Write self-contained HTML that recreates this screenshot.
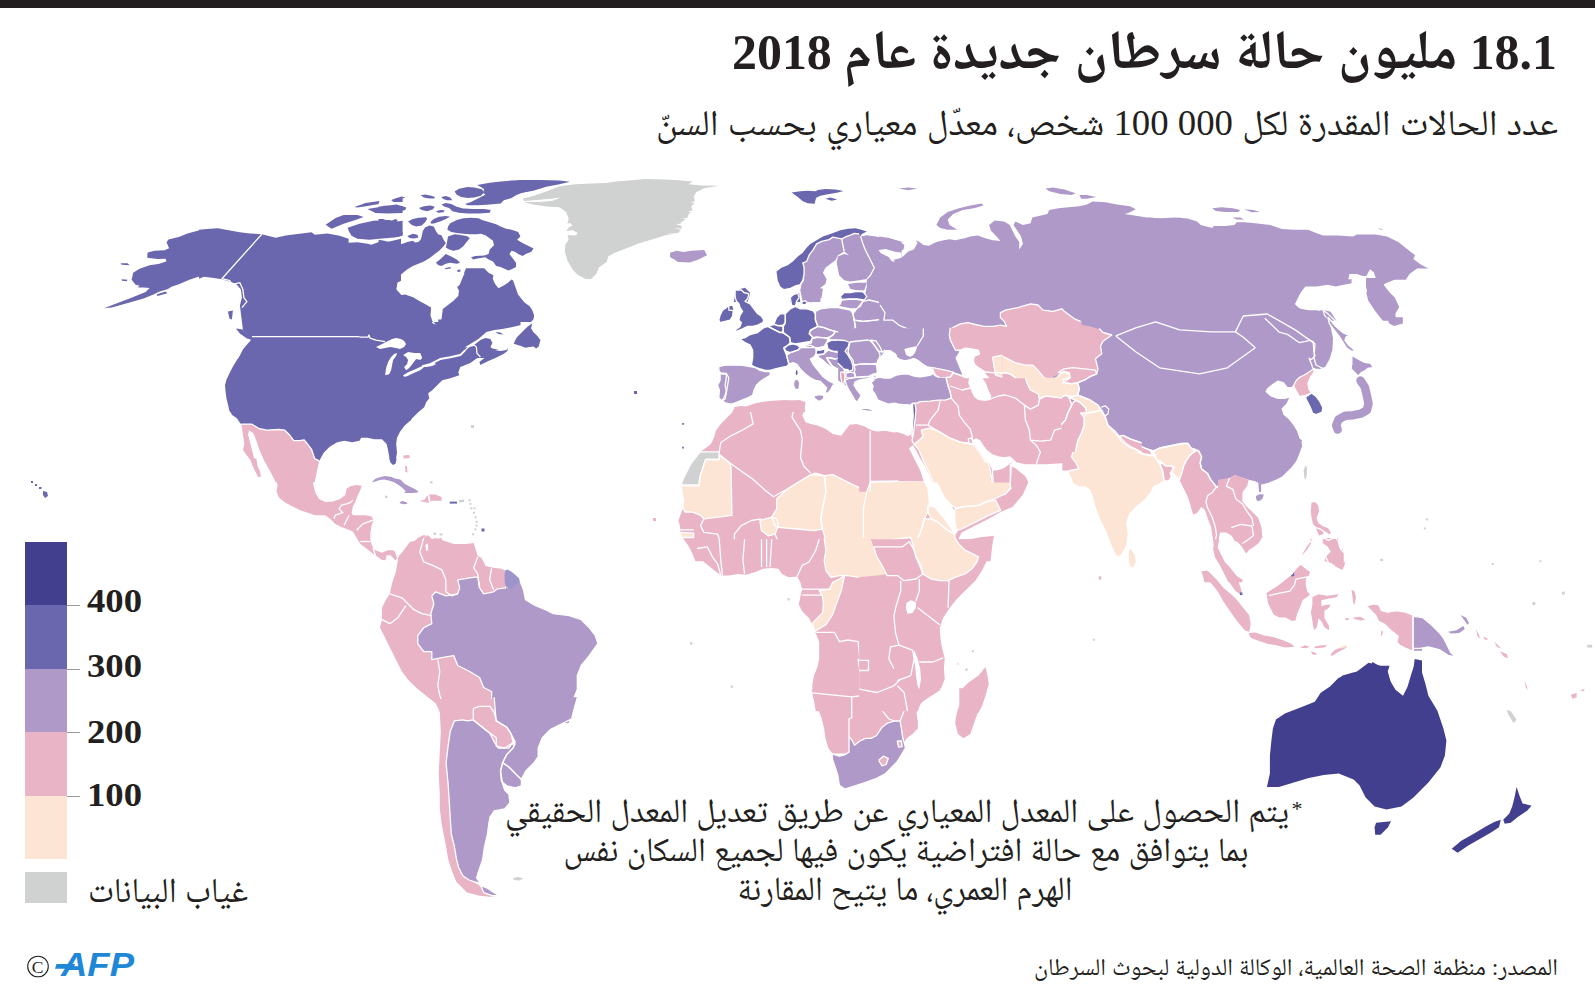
<!DOCTYPE html>
<html lang="ar">
<head>
<meta charset="utf-8">
<style>
html,body{margin:0;padding:0;background:#fff;}
body{width:1595px;height:1003px;position:relative;overflow:hidden;}
.ar{font-family:"Liberation Serif","Noto Naskh Arabic","DejaVu Sans",serif;color:#231f20;position:absolute;white-space:nowrap;direction:rtl;}
#bar{position:absolute;left:0;top:0;width:1595px;height:8px;background:#231f20;}
#title{right:38px;top:14px;font-size:50px;font-weight:bold;line-height:70px;}
#sub{right:37px;top:100px;font-size:30px;line-height:44px;}
#note{left:0;width:1812px;text-align:center;top:790px;font-size:28px;line-height:38.5px;direction:rtl;}
#src{right:37px;top:950px;font-size:21px;line-height:30px;}
#nodata{left:88px;top:872px;font-size:30px;line-height:36px;}
.lg{position:absolute;left:25px;width:42px;}
.tk{position:absolute;left:67px;width:13px;height:1px;background:#999;}
.num{position:absolute;left:88px;font-family:"Liberation Serif",serif;font-weight:bold;font-size:31px;line-height:36px;color:#231f20;}
#map{position:absolute;left:0;top:0;}
</style>
</head>
<body>
<div id="bar"></div>
<svg id="map" width="1595" height="1003" viewBox="0 0 1595 1003">
<polygon points="201.4,229.8 187.4,233.4 179.5,236.8 168.5,239.4 166.5,242.2 169.1,248.2 164.5,250.2 154.5,250.8 147.6,252.4 147.2,257.7 157.5,258.9 165.5,258.7 166.5,261.3 159.5,263.7 149.6,265.3 139.6,268.7 133.2,272.7 131.6,279.7 135.6,284.7 139.6,285.7 137.6,287.6 143.6,287.6 149.6,288.0 145.6,292.0 129.6,298.6 113.7,304.6 104.1,308.2 111.7,307.6 129.6,302.6 143.6,298.6 153.5,294.6 159.5,291.6 167.5,289.2 171.5,286.7 179.5,284.1 189.4,279.7 201.4,275.7" fill="#6a67ae"/>
<polygon points="120.6,263.3 127.6,263.3 129.6,265.3 121.6,264.7" fill="#6a67ae"/>
<polygon points="121.6,279.3 127.6,279.7 126.6,281.3 122.0,280.7" fill="#6a67ae"/>
<polygon points="156.5,294.6 165.5,291.6 167.5,293.2 157.5,296.0" fill="#6a67ae"/>
<polygon points="199.0,229.8 210.0,228.8 217.9,228.2 225.9,229.8 239.9,232.2 249.9,233.4 261.8,234.2 275.8,237.8 285.7,235.4 295.7,234.2 307.7,232.8 311.7,232.2 314.7,234.8 319.6,234.2 327.6,233.4 339.6,235.8 348.6,238.8 348.6,242.8 357.5,242.2 367.5,243.8 371.5,244.8 379.5,241.8 389.4,241.4 401.0,238.8 401.0,280.7 397.4,282.7 396.4,289.6 401.0,294.6 401.0,336.5 391.4,338.5 383.4,341.5 377.5,345.5 375.5,348.5 383.4,347.5 391.4,345.5 401.0,343.5 401.0,371.0 231.9,371.0 237.9,359.4 242.9,349.5 247.9,343.5 250.8,340.5 248.9,336.5 242.9,329.5 240.9,313.6 239.9,305.6 241.9,297.6 240.9,289.6 235.9,283.7 229.9,281.7 221.9,279.3 212.0,277.7 204.0,276.7 199.0,278.7" fill="#6a67ae"/>
<polygon points="325.6,224.8 335.6,217.9 343.6,214.9 357.5,214.9 363.5,216.9 355.5,219.9 343.6,223.8 331.6,228.8" fill="#6a67ae"/>
<polygon points="354.5,206.9 365.5,202.9 379.5,200.9 378.5,203.9 367.5,205.9 357.5,207.5" fill="#6a67ae"/>
<polygon points="347.6,227.8 359.5,223.8 373.5,220.8 389.4,219.9 395.4,221.8 402.6,220.8 402.6,235.8 391.4,237.8 379.5,238.8 369.5,239.8 357.5,238.8 351.5,235.8 348.6,230.8" fill="#6a67ae"/>
<polygon points="367.5,208.9 379.5,206.9 391.4,207.9 402.6,205.9 402.6,212.9 387.4,213.5 375.5,212.9" fill="#6a67ae"/>
<polygon points="391.4,199.9 402.6,197.9 402.6,201.9 393.4,201.9" fill="#6a67ae"/>
<polygon points="235.9,328.5 242.9,329.5 248.9,335.5 250.8,339.5 246.9,338.5 239.9,333.5" fill="#6a67ae"/>
<polygon points="227.9,311.6 232.9,310.6 231.9,319.6 229.5,318.6" fill="#6a67ae"/>
<polyline points="261.8,234.2 221.9,278.7 229.9,280.7 231.9,284.7 239.9,282.7 242.9,289.6 243.9,297.6 246.9,301.6 241.9,307.6" fill="none" stroke="#fff" stroke-width="1.3" stroke-linejoin="round"/>
<polyline points="252.8,336.5 368.5,336.5 369.5,339.5 383.4,341.5 391.4,343.5" fill="none" stroke="#fff" stroke-width="1.3" stroke-linejoin="round"/>
<polygon points="1039.3,429.3 1087.9,429.3 1084.9,439.0 1078.9,448.0 1072.9,452.4 1071.4,456.9 1075.9,462.9 1078.9,468.9 1068.4,470.4 1062.4,470.4 1055.0,464.4 1047.5,464.4 1039.3,465.9" fill="#e9b4c6"/>
<polygon points="1087.9,428.1 1105.8,428.1 1110.3,433.0 1117.8,437.5 1119.3,443.5 1129.8,449.4 1144.7,453.9 1153.7,455.4 1156.7,459.9 1159.7,464.4 1162.7,470.4 1164.2,480.9 1159.7,483.9 1153.7,486.8 1150.7,492.8 1144.7,500.3 1137.2,506.3 1129.8,513.8 1126.8,522.7 1128.3,534.7 1126.8,545.2 1122.3,554.2 1117.8,557.2 1114.8,554.2 1110.3,543.7 1105.8,531.7 1099.8,519.8 1095.3,507.8 1092.4,497.3 1089.4,489.8 1084.9,486.8 1078.9,486.8 1072.9,483.9 1071.4,479.4 1068.4,473.4 1069.9,470.4 1078.9,468.9 1075.9,462.9 1071.4,456.9 1072.9,452.4 1078.9,448.0 1084.9,439.0" fill="#fde5d6"/>
<polygon points="1153.7,450.9 1159.7,448.0 1167.2,446.5 1174.6,445.0 1182.1,443.5 1188.1,443.5 1191.1,448.0 1195.6,450.9 1189.6,455.4 1186.6,459.9 1183.6,465.9 1182.1,471.9 1179.1,479.4 1174.6,474.9 1171.6,471.9 1174.6,467.4 1170.1,465.9 1165.7,465.9 1161.2,461.4 1156.7,459.9" fill="#fde5d6"/>
<polygon points="1117.8,437.5 1123.8,438.2 1132.7,442.0 1141.7,446.5 1150.7,450.9 1152.2,456.2 1144.7,454.7 1132.7,450.9 1123.8,448.0 1117.8,443.5" fill="#e9b4c6"/>
<polygon points="1159.7,461.4 1165.7,465.9 1171.6,465.9 1173.1,468.9 1170.1,473.4 1171.6,476.4 1168.6,480.9 1164.2,480.9 1162.7,473.4 1161.2,467.4" fill="#e9b4c6"/>
<polygon points="1105.8,428.1 1242.4,428.1 1242.4,474.9 1236.0,474.9 1228.5,479.4 1221.0,482.4 1219.5,485.3 1216.5,486.8 1210.5,479.4 1207.5,473.4 1201.6,468.9 1200.1,462.9 1201.6,456.9 1198.6,450.9 1195.6,449.4 1191.1,448.0 1188.1,443.5 1182.1,443.5 1174.6,445.0 1167.2,446.5 1159.7,448.0 1153.7,450.9 1144.7,448.0 1132.7,443.5 1123.8,438.2 1117.8,437.5 1110.3,433.0" fill="#ae99c9"/>
<polygon points="1191.1,453.9 1195.6,450.9 1198.6,450.9 1201.6,456.9 1200.1,462.9 1201.6,468.9 1207.5,473.4 1210.5,479.4 1216.5,486.8 1212.0,492.8 1207.5,495.8 1206.0,501.8 1207.5,507.8 1212.0,516.8 1215.0,525.7 1216.5,534.7 1215.0,542.2 1213.5,548.2 1212.0,537.7 1210.5,527.2 1207.5,519.8 1204.5,510.8 1201.6,507.8 1197.1,513.8 1192.6,515.3 1189.6,504.8 1186.6,495.8 1182.1,486.8 1179.1,480.9 1182.1,471.9 1183.6,465.9 1186.6,459.9" fill="#e9b4c6"/>
<polygon points="1216.5,486.8 1219.5,485.3 1221.0,482.4 1228.5,479.4 1236.0,474.9 1242.4,474.9 1242.4,543.7 1234.5,540.7 1231.5,534.7 1227.0,531.7 1221.0,528.7 1219.5,534.7 1218.0,543.7 1216.5,549.7 1219.5,557.2 1224.0,563.1 1228.5,567.6 1233.0,572.1 1237.5,576.6 1242.4,579.6 1242.4,582.3 1228.5,582.3 1224.0,573.6 1219.5,564.6 1215.0,557.2 1213.5,548.2 1215.0,542.2 1216.5,534.7 1215.0,525.7 1212.0,516.8 1207.5,507.8 1206.0,501.8 1207.5,495.8 1212.0,492.8" fill="#e9b4c6"/>
<polygon points="1128.3,549.7 1131.2,548.2 1135.0,554.2 1136.5,561.6 1134.2,567.6 1129.8,566.9 1128.3,560.1" fill="#fde5d6"/>
<polygon points="1201.6,571.4 1207.5,570.6 1213.5,576.6 1216.5,582.3 1204.5,582.3" fill="#e9b4c6"/>
<polygon points="1098.8,576.3 1101.3,576.3 1101.3,579.6 1098.8,579.6" fill="#e9b4c6"/>
<path d="M1105.8,428.1 L1110.3,433.0 L1117.8,437.5 L1119.3,443.5 L1129.8,449.4 L1144.7,453.9 L1153.7,455.4 L1156.7,459.9 L1159.7,464.4 L1162.7,470.4 L1164.2,480.9 L1159.7,483.9 L1153.7,486.8 L1150.7,492.8 L1144.7,500.3 L1137.2,506.3 L1129.8,513.8 L1126.8,522.7 L1128.3,534.7 L1126.8,545.2 L1122.3,554.2 L1117.8,557.2 L1114.8,554.2 L1110.3,543.7 L1105.8,531.7 L1099.8,519.8 L1095.3,507.8 L1092.4,497.3 L1089.4,489.8 L1084.9,486.8 L1078.9,486.8 L1072.9,483.9 L1071.4,479.4 L1068.4,473.4 L1069.9,470.4 L1078.9,468.9 L1075.9,462.9 L1071.4,456.9 L1072.9,452.4 L1078.9,448.0 L1084.9,439.0 L1087.9,428.1" fill="none" stroke="#fff" stroke-width="1.3" stroke-linejoin="round"/>
<path d="M1153.7,450.9 L1159.7,448.0 L1167.2,446.5 L1174.6,445.0 L1182.1,443.5 L1188.1,443.5 L1191.1,448.0 L1195.6,450.9 L1189.6,455.4 L1186.6,459.9 L1183.6,465.9 L1182.1,471.9 L1179.1,479.4 L1174.6,474.9 L1171.6,471.9 L1174.6,467.4 L1170.1,465.9 L1165.7,465.9 L1161.2,461.4 L1156.7,459.9 L1153.7,450.9" fill="none" stroke="#fff" stroke-width="1.3" stroke-linejoin="round"/>
<path d="M1117.8,437.5 L1123.8,438.2 L1132.7,442.0 L1141.7,446.5 L1150.7,450.9 L1152.2,456.2 L1144.7,454.7 L1132.7,450.9 L1123.8,448.0 L1117.8,443.5 L1117.8,437.5" fill="none" stroke="#fff" stroke-width="1.3" stroke-linejoin="round"/>
<path d="M1159.7,461.4 L1165.7,465.9 L1171.6,465.9 L1173.1,468.9 L1170.1,473.4 L1171.6,476.4 L1168.6,480.9 L1164.2,480.9 L1162.7,473.4 L1161.2,467.4 L1159.7,461.4" fill="none" stroke="#fff" stroke-width="1.3" stroke-linejoin="round"/>
<path d="M1242.4,474.9 L1236.0,474.9 L1228.5,479.4 L1221.0,482.4 L1219.5,485.3 L1216.5,486.8 L1210.5,479.4 L1207.5,473.4 L1201.6,468.9 L1200.1,462.9 L1201.6,456.9 L1198.6,450.9 L1195.6,449.4 L1191.1,448.0 L1188.1,443.5 L1182.1,443.5 L1174.6,445.0 L1167.2,446.5 L1159.7,448.0 L1153.7,450.9 L1144.7,448.0 L1132.7,443.5 L1123.8,438.2 L1117.8,437.5 L1110.3,433.0 L1105.8,428.1" fill="none" stroke="#fff" stroke-width="1.3" stroke-linejoin="round"/>
<path d="M1191.1,453.9 L1195.6,450.9 L1198.6,450.9 L1201.6,456.9 L1200.1,462.9 L1201.6,468.9 L1207.5,473.4 L1210.5,479.4 L1216.5,486.8 L1212.0,492.8 L1207.5,495.8 L1206.0,501.8 L1207.5,507.8 L1212.0,516.8 L1215.0,525.7 L1216.5,534.7 L1215.0,542.2 L1213.5,548.2 L1212.0,537.7 L1210.5,527.2 L1207.5,519.8 L1204.5,510.8 L1201.6,507.8 L1197.1,513.8 L1192.6,515.3 L1189.6,504.8 L1186.6,495.8 L1182.1,486.8 L1179.1,480.9 L1182.1,471.9 L1183.6,465.9 L1186.6,459.9 L1191.1,453.9" fill="none" stroke="#fff" stroke-width="1.3" stroke-linejoin="round"/>
<path d="M1128.3,549.7 L1131.2,548.2 L1135.0,554.2 L1136.5,561.6 L1134.2,567.6 L1129.8,566.9 L1128.3,560.1 L1128.3,549.7" fill="none" stroke="#fff" stroke-width="1.3" stroke-linejoin="round"/>
<polyline points="1216.5,486.8 1222.5,489.8 1227.0,495.8 1234.5,498.8 1241.2,500.3" fill="none" stroke="#fff" stroke-width="1.3" stroke-linejoin="round"/>
<polyline points="1221.0,498.8 1222.5,504.8 1228.5,503.3 1234.5,507.8 1241.2,510.8" fill="none" stroke="#fff" stroke-width="1.3" stroke-linejoin="round"/>
<polyline points="1230.0,525.7 1234.5,522.7 1241.2,524.2" fill="none" stroke="#fff" stroke-width="1.3" stroke-linejoin="round"/>
<polyline points="1219.5,558.6 1228.5,561.6" fill="none" stroke="#fff" stroke-width="1.3" stroke-linejoin="round"/>
<polygon points="1059.3,299.3 1261.0,299.3 1261.0,441.0 1059.3,441.0" fill="#ae99c9"/>
<polygon points="1058.2,308.4 1071.2,316.7 1082.3,325.1 1090.7,326.5 1099.1,329.3 1106.1,332.1 1114.4,334.2 1116.5,335.6 1113.0,341.9 1111.6,347.5 1104.7,347.5 1101.9,353.0 1096.3,357.2 1094.9,360.0 1099.1,365.6 1100.5,369.8 1096.3,372.6 1090.7,374.0 1086.5,379.6 1080.9,382.3 1076.7,385.1 1076.7,389.3 1080.9,394.9 1085.1,400.5 1090.7,404.7 1099.1,408.9 1103.3,414.4 1106.1,418.6 1107.5,425.6 1113.0,434.0 1118.6,442.1 1058.2,442.1" fill="#e9b4c6"/>
<polyline points="1101.9,407.5 1106.1,406.8 1108.8,410.3 1107.5,415.8 1103.3,414.4" fill="none" stroke="#fff" stroke-width="1.3" stroke-linejoin="round"/>
<polygon points="1149.1,217.6 1159.4,218.6 1174.4,217.6 1187.6,218.6 1197.0,221.4 1200.8,225.1 1212.1,228.0 1213.9,226.1 1225.2,226.1 1234.6,225.1 1236.5,222.3 1244.0,222.3 1255.3,223.3 1270.4,225.1 1281.7,228.9 1292.9,229.8 1308.0,229.8 1315.5,232.7 1323.0,235.5 1338.1,235.5 1353.1,236.4 1356.9,234.5 1362.5,234.5 1375.7,234.5 1387.0,236.4 1398.3,242.1 1407.7,249.6 1415.2,255.2 1413.3,259.0 1420.8,264.6 1428.4,268.4 1417.1,268.4 1409.5,274.0 1405.8,279.7 1394.5,279.7 1385.1,283.4 1383.2,285.3 1385.1,292.8 1392.6,298.5 1396.4,304.1 1394.5,311.7 1396.4,321.1 1149.1,321.1" fill="#ae99c9"/>
<polygon points="1294.8,304.1 1300.5,292.8 1304.2,286.3 1319.3,285.3 1328.7,283.4 1338.1,284.4 1347.5,283.4 1349.4,274.0 1356.9,274.0 1362.5,275.9 1366.3,275.9 1370.0,269.3 1373.8,272.2 1375.7,277.8 1371.9,285.3 1366.3,292.8 1368.2,300.4 1375.7,311.7 1385.1,323.5 1338.1,323.5 1330.6,311.7 1323.0,309.8 1315.5,311.7 1309.9,311.7 1300.5,309.8" fill="#ffffff"/>
<polygon points="1212.1,208.2 1221.5,207.3 1232.8,208.2 1240.3,210.1 1238.4,212.0 1225.2,212.0 1215.8,211.0" fill="#ae99c9"/>
<polygon points="1244.0,209.2 1253.4,210.1 1260.0,212.0 1251.6,212.3" fill="#ae99c9"/>
<polygon points="1232.8,217.6 1240.3,217.6 1244.0,219.5 1236.5,219.5" fill="#ae99c9"/>
<polygon points="1377.6,228.0 1383.2,229.3 1381.3,229.8" fill="#ae99c9"/>
<polygon points="1214.6,539.2 1219.1,539.2 1217.6,547.5 1220.6,553.5 1225.1,562.6 1229.7,567.1 1234.2,573.1 1238.7,582.1 1241.7,591.2 1240.2,594.2 1235.7,591.2 1231.2,585.1 1226.6,577.6 1223.6,570.1 1219.1,561.1 1214.6,555.0 1213.1,549.0" fill="#e9b4c6"/>
<polygon points="1201.1,571.6 1207.1,572.4 1216.1,579.1 1223.6,588.1 1231.2,594.2 1237.2,600.2 1243.2,607.7 1249.2,615.2 1250.7,624.3 1249.2,631.8 1244.7,630.3 1237.2,621.3 1229.7,610.7 1223.6,601.7 1217.6,591.2 1210.1,582.1" fill="#e9b4c6"/>
<polygon points="1248.5,633.3 1255.2,632.5 1264.3,635.5 1273.3,637.1 1282.3,640.1 1291.3,643.8 1294.4,646.8 1285.3,647.6 1276.3,645.3 1267.3,643.8 1258.2,640.8 1250.7,637.8" fill="#e9b4c6"/>
<polygon points="1299.6,647.6 1304.9,645.3 1309.4,646.8 1306.4,648.3" fill="#e9b4c6"/>
<polygon points="1313.9,646.8 1321.4,645.3 1327.5,645.3 1324.4,647.6 1315.4,648.3" fill="#e9b4c6"/>
<polygon points="1310.9,651.3 1315.4,652.8 1316.9,655.1 1312.4,654.4" fill="#e9b4c6"/>
<polygon points="1330.5,654.4 1335.0,649.8 1339.5,648.3 1345.5,645.3 1347.0,647.6 1338.0,652.1 1332.0,655.9" fill="#e9b4c6"/>
<polygon points="1339.5,647.6 1345.5,645.3 1347.3,647.1 1341.0,648.6" fill="#fde5d6"/>
<polygon points="1265.8,592.7 1270.3,589.7 1277.8,585.1 1285.3,579.1 1291.3,574.6 1295.9,568.6 1300.4,564.1 1306.4,568.6 1310.9,571.6 1309.4,576.1 1306.4,579.1 1306.4,585.1 1307.9,591.2 1310.9,594.2 1307.9,597.2 1303.4,600.2 1300.4,607.7 1297.4,615.2 1295.9,621.3 1291.3,621.3 1285.3,618.2 1279.3,618.2 1273.3,615.2 1270.3,609.2 1267.3,603.2" fill="#e9b4c6"/>
<polygon points="1290.6,574.6 1293.6,571.6 1294.4,576.1 1291.3,576.4" fill="#6a67ae"/>
<polygon points="1312.4,597.2 1318.4,594.2 1327.5,595.7 1338.0,594.2 1339.5,592.7 1336.5,597.2 1327.5,598.7 1321.4,600.2 1321.4,606.2 1326.0,604.7 1330.5,604.7 1329.0,607.7 1324.4,610.7 1324.4,618.2 1329.0,625.8 1329.0,630.3 1324.4,627.3 1321.4,621.3 1318.4,618.2 1316.9,627.3 1313.9,630.3 1312.4,621.3 1310.9,612.2 1312.4,604.7" fill="#e9b4c6"/>
<polygon points="1351.5,589.7 1354.5,591.2 1356.0,597.2 1354.5,604.7 1353.0,601.7 1352.3,595.7" fill="#e9b4c6"/>
<polygon points="1344.8,618.2 1348.5,618.2 1349.3,619.7 1345.5,620.0" fill="#e9b4c6"/>
<polygon points="1353.0,617.5 1360.6,616.7 1365.1,619.7 1360.6,620.5 1354.5,619.0" fill="#e9b4c6"/>
<polygon points="1381.6,630.3 1383.1,631.8 1381.6,636.3 1380.9,634.8" fill="#e9b4c6"/>
<polygon points="1366.6,606.2 1372.6,603.9 1378.6,604.7 1381.6,610.7 1387.6,612.2 1396.7,610.7 1405.7,612.2 1413.2,615.2 1413.2,651.3 1405.7,648.3 1399.7,645.3 1396.7,642.3 1398.2,636.3 1390.7,630.3 1384.6,624.3 1378.6,621.3 1375.6,615.2 1371.1,610.7" fill="#e9b4c6"/>
<polygon points="1413.2,615.2 1422.0,616.7 1422.0,651.3 1413.2,651.3" fill="#ae99c9"/>
<polygon points="1324.4,538.0 1338.0,538.0 1339.5,546.0 1338.0,552.0 1342.5,549.0 1344.0,555.0 1345.5,562.6 1342.5,570.1 1336.5,567.1 1330.5,562.6 1324.4,561.1 1326.0,556.6 1330.5,555.0 1329.0,549.0" fill="#e9b4c6"/>
<polygon points="1303.4,553.5 1307.9,546.0 1310.9,538.0 1312.4,541.5 1307.9,550.5" fill="#e9b4c6"/>
<polygon points="1237.2,538.0 1258.2,538.0 1252.2,546.0 1246.2,553.5 1243.2,549.0" fill="#e9b4c6"/>
<polygon points="1239.9,592.4 1242.4,592.4 1242.4,595.1 1239.9,595.1" fill="#6a67ae"/>
<polygon points="1380.9,558.8 1383.1,558.8 1383.1,561.1 1380.9,561.1" fill="#d0d1d1"/>
<polygon points="1335.0,681.9 1342.5,675.4 1353.0,672.4 1368.1,669.4 1372.6,661.9 1380.1,666.4 1389.1,666.4 1387.6,670.9 1390.7,681.9" fill="#433f8f"/>
<polygon points="1411.7,681.9 1414.7,658.9 1422.0,660.4 1422.0,681.9" fill="#433f8f"/>
<path d="M1265.8,592.7 L1270.3,589.7 L1277.8,585.1 L1285.3,579.1 L1291.3,574.6 L1295.9,568.6 L1300.4,564.1 L1306.4,568.6 L1310.9,571.6 L1309.4,576.1 L1306.4,579.1 L1306.4,585.1 L1307.9,591.2 L1310.9,594.2 L1307.9,597.2 L1303.4,600.2 L1300.4,607.7 L1297.4,615.2 L1295.9,621.3 L1291.3,621.3 L1285.3,618.2 L1279.3,618.2 L1273.3,615.2 L1270.3,609.2 L1267.3,603.2 L1265.8,592.7" fill="none" stroke="#fff" stroke-width="1.3" stroke-linejoin="round"/>
<path d="M1366.6,606.2 L1372.6,603.9 L1378.6,604.7 L1381.6,610.7 L1387.6,612.2 L1396.7,610.7 L1405.7,612.2 L1413.2,615.2 L1413.2,651.3 L1405.7,648.3 L1399.7,645.3 L1396.7,642.3 L1398.2,636.3 L1390.7,630.3 L1384.6,624.3 L1378.6,621.3 L1375.6,615.2 L1371.1,610.7 L1366.6,606.2" fill="none" stroke="#fff" stroke-width="1.3" stroke-linejoin="round"/>
<path d="M1413.2,615.2 L1422.0,616.7 M1422.0,651.3 L1413.2,651.3 L1413.2,615.2" fill="none" stroke="#fff" stroke-width="1.3" stroke-linejoin="round"/>
<polyline points="1268.8,595.7 1274.8,594.2 1282.3,592.7 1289.8,591.2 1294.4,585.1 1295.9,579.1 1303.4,577.6 1310.9,576.1" fill="none" stroke="#fff" stroke-width="1.3" stroke-linejoin="round"/>
<polygon points="1219.2,399.2 1287.0,399.2 1283.8,404.8 1280.6,409.6 1283.8,414.4 1288.6,420.7 1295.0,427.1 1298.1,433.5 1301.3,439.9 1302.1,446.3 1299.7,452.6 1296.6,460.6 1291.8,467.0 1287.0,471.8 1282.2,476.6 1275.8,479.7 1267.8,482.9 1261.5,484.5 1255.1,481.3 1248.7,479.7 1239.1,476.6 1234.4,475.0 1229.6,478.1 1219.2,479.7" fill="#ae99c9"/>
<polygon points="1255.1,495.7 1259.9,493.3 1264.7,494.1 1263.1,498.9 1259.1,502.1 1255.9,500.5" fill="#ae99c9"/>
<polygon points="1258.3,482.9 1261.1,483.7 1261.1,491.7 1259.1,492.5" fill="#ae99c9"/>
<polygon points="1302.9,470.2 1305.3,464.6 1307.7,467.0 1307.4,475.0 1306.1,481.3 1303.7,478.1" fill="#d0d1d1"/>
<polygon points="1330.0,420.7 1338.0,412.8 1347.6,408.0 1352.4,403.2 1354.0,397.9 1372.8,397.9 1372.8,408.0 1363.5,412.8 1355.6,419.1 1350.8,415.9 1344.4,419.1 1341.2,422.3 1339.6,431.9 1336.4,431.1 1334.8,423.9" fill="#ae99c9"/>
<polygon points="1217.9,479.7 1229.6,478.1 1234.4,475.0 1239.1,476.6 1248.7,479.7 1247.1,486.1 1242.3,492.5 1240.7,498.9 1245.5,505.3 1251.9,511.6 1258.3,518.0 1261.5,527.6 1262.3,537.2 1258.3,543.5 1251.9,548.3 1245.5,551.5 1242.3,546.7 1235.9,540.4 1231.2,535.6 1226.4,532.4 1217.9,532.4" fill="#e9b4c6"/>
<polygon points="1310.9,502.1 1315.7,501.3 1318.9,505.3 1319.7,511.6 1317.3,518.0 1318.9,522.8 1323.7,526.0 1328.5,527.6 1331.6,532.4 1330.0,535.6 1325.3,532.4 1320.5,529.2 1315.7,527.6 1312.5,524.4 1310.9,518.0 1310.1,511.6" fill="#e9b4c6"/>
<polygon points="1322.1,537.2 1328.5,540.4 1334.8,537.2 1338.0,540.4 1339.6,546.7 1341.2,549.9 1344.4,553.1 1344.4,562.4 1328.5,562.4 1325.3,556.3 1330.0,551.5 1326.9,546.7 1322.1,543.5" fill="#e9b4c6"/>
<polygon points="1301.3,554.7 1306.1,546.7 1310.9,540.4 1311.7,543.5 1307.7,549.9 1302.9,555.5" fill="#e9b4c6"/>
<polygon points="1315.7,527.6 1322.1,529.2 1323.7,534.0 1318.9,535.6" fill="#e9b4c6"/>
<path d="M1255.1,495.7 L1259.9,493.3 L1264.7,494.1 L1263.1,498.9 L1259.1,502.1 L1255.9,500.5 L1255.1,495.7" fill="none" stroke="#fff" stroke-width="1.3" stroke-linejoin="round"/>
<path d="M1302.9,470.2 L1305.3,464.6 L1307.7,467.0 L1307.4,475.0 L1306.1,481.3 L1303.7,478.1 L1302.9,470.2" fill="none" stroke="#fff" stroke-width="1.3" stroke-linejoin="round"/>
<path d="M1330.0,420.7 L1338.0,412.8 L1347.6,408.0 L1352.4,403.2 L1354.0,397.9 M1372.8,408.0 L1363.5,412.8 L1355.6,419.1 L1350.8,415.9 L1344.4,419.1 L1341.2,422.3 L1339.6,431.9 L1336.4,431.1 L1334.8,423.9 L1330.0,420.7" fill="none" stroke="#fff" stroke-width="1.3" stroke-linejoin="round"/>
<path d="M1310.9,502.1 L1315.7,501.3 L1318.9,505.3 L1319.7,511.6 L1317.3,518.0 L1318.9,522.8 L1323.7,526.0 L1328.5,527.6 L1331.6,532.4 L1330.0,535.6 L1325.3,532.4 L1320.5,529.2 L1315.7,527.6 L1312.5,524.4 L1310.9,518.0 L1310.1,511.6 L1310.9,502.1" fill="none" stroke="#fff" stroke-width="1.3" stroke-linejoin="round"/>
<path d="M1322.1,537.2 L1328.5,540.4 L1334.8,537.2 L1338.0,540.4 L1339.6,546.7 L1341.2,549.9 L1344.4,553.1 L1344.4,562.4 M1328.5,562.4 L1325.3,556.3 L1330.0,551.5 L1326.9,546.7 L1322.1,543.5 L1322.1,537.2" fill="none" stroke="#fff" stroke-width="1.3" stroke-linejoin="round"/>
<path d="M1301.3,554.7 L1306.1,546.7 L1310.9,540.4 L1311.7,543.5 L1307.7,549.9 L1302.9,555.5 L1301.3,554.7" fill="none" stroke="#fff" stroke-width="1.3" stroke-linejoin="round"/>
<polyline points="1229.6,478.1 1226.4,486.1 1232.8,489.3 1235.9,498.9 1242.3,503.7 1247.1,511.6 1251.9,518.0 1253.5,526.0" fill="none" stroke="#fff" stroke-width="1.3" stroke-linejoin="round"/>
<polyline points="1231.2,527.6 1240.7,524.4 1251.9,526.0 1253.5,535.6 1247.1,540.4 1242.3,543.5" fill="none" stroke="#fff" stroke-width="1.3" stroke-linejoin="round"/>
<polygon points="1239.2,279.2 1351.6,279.2 1351.6,283.2 1343.7,284.8 1335.7,286.4 1327.7,284.8 1316.6,286.4 1305.4,286.4 1299.0,294.4 1294.2,305.5 1300.6,308.7 1308.6,310.3 1316.6,310.3 1322.9,311.9 1326.1,319.9 1329.3,326.3 1332.5,335.8 1332.5,347.0 1329.3,356.6 1326.1,366.1 1319.7,368.5 1315.0,369.3 1311.8,368.5 1308.6,370.9 1303.8,374.1 1297.4,375.7 1292.6,383.7 1287.8,388.5 1283.1,390.0 1281.5,386.9 1278.3,380.5 1271.9,383.7 1266.3,390.0 1271.9,396.4 1278.3,398.8 1283.1,401.2 1279.9,407.6 1283.1,414.0 1289.4,420.4 1294.2,428.3 1299.0,436.3 1302.2,441.1 1239.2,441.1" fill="#ae99c9"/>
<polygon points="1292.6,383.7 1297.4,375.7 1303.8,374.1 1308.6,370.9 1311.8,368.5 1312.6,372.5 1310.2,378.9 1307.0,385.3 1308.6,391.6 1303.8,394.8 1299.0,394.8 1295.8,390.0" fill="#e9b4c6"/>
<polygon points="1305.4,396.4 1310.2,393.2 1316.6,394.8 1321.3,401.2 1322.9,407.6 1319.7,412.4 1313.4,414.0 1308.6,407.6 1307.0,401.2" fill="#6a67ae"/>
<polygon points="1322.9,309.5 1329.3,315.1 1335.7,321.5 1343.7,331.0 1350.0,335.8 1348.5,337.4 1346.9,342.2 1351.6,347.0 1353.2,351.0 1350.0,350.2 1345.3,343.8 1342.1,337.4 1335.7,329.4 1329.3,321.5 1324.5,315.1" fill="#ae99c9"/>
<polygon points="1351.6,356.6 1358.0,359.7 1364.4,362.9 1370.8,362.9 1372.4,366.9 1367.6,369.3 1366.0,372.5 1361.2,370.9 1358.0,374.1 1353.2,372.5 1351.6,366.1" fill="#ae99c9"/>
<polygon points="1358.0,378.9 1362.8,378.1 1367.6,385.3 1368.4,394.8 1370.8,406.0 1372.4,409.2 1367.6,412.4 1361.2,415.6 1354.8,418.8 1348.5,418.0 1343.7,420.4 1340.5,418.8 1335.7,420.4 1330.9,420.4 1334.1,426.7 1337.3,431.5 1340.5,429.9 1342.1,421.9 1345.3,418.8 1350.0,418.8 1351.6,412.4 1354.8,406.0 1358.0,399.6 1359.6,391.6 1358.0,385.3" fill="#ae99c9"/>
<polygon points="1366.0,277.9 1380.4,277.9 1383.5,284.8 1389.9,292.8 1394.7,297.5 1399.2,307.1 1395.5,313.5 1394.7,326.3 1391.5,324.7 1383.5,315.1 1377.2,308.7 1370.8,300.7 1367.6,294.4 1366.0,286.4" fill="#ae99c9"/>
<path d="M1292.6,383.7 L1297.4,375.7 L1303.8,374.1 L1308.6,370.9 L1311.8,368.5 L1312.6,372.5 L1310.2,378.9 L1307.0,385.3 L1308.6,391.6 L1303.8,394.8 L1299.0,394.8 L1295.8,390.0 L1292.6,383.7" fill="none" stroke="#fff" stroke-width="1.3" stroke-linejoin="round"/>
<path d="M1305.4,396.4 L1310.2,393.2 L1316.6,394.8 L1321.3,401.2 L1322.9,407.6 L1319.7,412.4 L1313.4,414.0 L1308.6,407.6 L1307.0,401.2 L1305.4,396.4" fill="none" stroke="#fff" stroke-width="1.3" stroke-linejoin="round"/>
<path d="M1322.9,309.5 L1329.3,315.1 L1335.7,321.5 L1343.7,331.0 L1350.0,335.8 L1348.5,337.4 L1346.9,342.2 L1351.6,347.0 L1353.2,351.0 L1350.0,350.2 L1345.3,343.8 L1342.1,337.4 L1335.7,329.4 L1329.3,321.5 L1324.5,315.1 L1322.9,309.5" fill="none" stroke="#fff" stroke-width="1.3" stroke-linejoin="round"/>
<path d="M1351.6,356.6 L1358.0,359.7 L1364.4,362.9 L1370.8,362.9 L1372.4,366.9 L1367.6,369.3 L1366.0,372.5 L1361.2,370.9 L1358.0,374.1 L1353.2,372.5 L1351.6,366.1 L1351.6,356.6" fill="none" stroke="#fff" stroke-width="1.3" stroke-linejoin="round"/>
<path d="M1358.0,378.9 L1362.8,378.1 L1367.6,385.3 L1368.4,394.8 L1370.8,406.0 L1372.4,409.2 L1367.6,412.4 L1361.2,415.6 L1354.8,418.8 L1348.5,418.0 L1343.7,420.4 L1340.5,418.8 L1335.7,420.4 L1330.9,420.4 L1334.1,426.7 L1337.3,431.5 L1340.5,429.9 L1342.1,421.9 L1345.3,418.8 L1350.0,418.8 L1351.6,412.4 L1354.8,406.0 L1358.0,399.6 L1359.6,391.6 L1358.0,385.3 L1358.0,378.9" fill="none" stroke="#fff" stroke-width="1.3" stroke-linejoin="round"/>
<polygon points="1413.2,616.3 1422.9,617.7 1431.3,624.7 1439.7,633.1 1443.9,638.7 1450.9,652.6 1455.1,656.8 1448.1,655.4 1439.7,649.8 1428.5,647.0 1420.1,648.4 1413.2,648.4" fill="#ae99c9"/>
<polygon points="1448.1,631.7 1456.5,630.3 1463.4,626.1 1464.8,628.9 1459.2,633.1 1450.9,633.6" fill="#ae99c9"/>
<polygon points="1460.6,614.9 1466.2,617.7 1469.0,623.3 1467.6,624.7 1463.4,619.1" fill="#ae99c9"/>
<polygon points="1476.0,628.9 1478.8,634.5 1480.2,638.7 1477.4,635.9" fill="#e9b4c6"/>
<polygon points="1483.8,636.7 1487.7,638.7 1487.2,640.3 1483.8,638.7" fill="#e9b4c6"/>
<polygon points="1494.2,641.5 1498.4,645.6 1501.1,648.4 1497.0,647.0" fill="#e9b4c6"/>
<polygon points="1499.7,651.2 1506.7,654.0 1508.1,658.2 1503.9,656.8" fill="#e9b4c6"/>
<polygon points="1524.9,680.6 1526.3,684.7 1527.7,690.3 1525.7,687.5" fill="#e9b4c6"/>
<polygon points="1571.0,694.5 1576.6,693.1 1576.6,697.3 1572.4,698.7" fill="#e9b4c6"/>
<polygon points="1579.4,690.3 1584.9,688.9 1583.5,691.2" fill="#e9b4c6"/>
<polygon points="1506.7,709.9 1510.9,711.3 1516.5,719.7 1513.7,723.3 1508.1,714.1" fill="#d0d1d1"/>
<polygon points="1532.4,602.3 1535.2,602.3 1535.2,605.1 1532.4,605.1" fill="#d0d1d1"/>
<polygon points="1562.0,591.7 1564.8,591.7 1564.8,594.5 1562.0,594.5" fill="#d0d1d1"/>
<polygon points="1587.2,644.8 1592.2,644.8 1592.2,647.6 1587.2,647.6" fill="#d0d1d1"/>
<path d="M1413.2,616.3 L1422.9,617.7 L1431.3,624.7 L1439.7,633.1 L1443.9,638.7 L1450.9,652.6 L1455.1,656.8 L1448.1,655.4 L1439.7,649.8 L1428.5,647.0 L1420.1,648.4 L1413.2,648.4 L1413.2,616.3" fill="none" stroke="#fff" stroke-width="1.3" stroke-linejoin="round"/>
<polygon points="247.4,329.3 411.2,329.3 411.2,419.8 404.5,425.7 400.0,431.7 397.0,437.7 396.2,443.7 397.0,452.7 395.5,461.6 392.5,463.1 389.5,458.6 388.0,449.7 386.5,443.7 382.0,439.2 374.5,439.2 367.1,437.7 361.1,437.7 359.6,440.7 352.1,442.2 344.6,440.7 337.2,442.2 329.7,446.7 323.7,452.7 319.2,460.9 314.7,458.6 311.7,449.7 307.2,443.7 304.2,439.9 299.8,440.7 293.8,440.7 289.3,434.7 284.8,430.2 278.8,429.5 266.8,430.2 259.4,428.7 251.9,424.2 241.4,424.2 239.9,422.7 236.9,418.3 232.4,415.3 229.4,410.8 228.0,404.8 226.5,398.8 225.7,392.8 225.0,385.3 226.5,379.4 229.4,373.4 232.4,367.4 236.9,359.9 241.4,353.9 245.9,348.0 250.4,345.0 251.9,339.0 250.4,334.5" fill="#6a67ae"/>
<polygon points="241.4,424.2 251.9,424.2 259.4,428.7 266.8,430.2 278.8,429.5 284.8,430.2 289.3,434.7 293.8,440.7 299.8,440.7 304.2,439.9 307.2,443.7 311.7,449.7 314.7,458.6 319.2,460.9 317.7,467.6 314.7,482.3 275.8,482.3 269.8,470.6 263.9,460.1 259.4,449.7 256.4,440.7 253.4,433.2 248.9,430.2 248.1,434.7 249.6,440.7 251.9,449.7 254.9,461.6 259.4,473.6 260.9,476.6 257.9,476.6 253.4,467.6 250.4,460.1 245.9,454.2 242.9,449.7 244.4,443.7 242.9,434.7" fill="#e9b4c6"/>
<polyline points="251.9,336.7 368.6,336.7" fill="none" stroke="#fff" stroke-width="1.3" stroke-linejoin="round"/>
<polyline points="241.4,424.2 251.9,424.2 259.4,428.7 266.8,430.2 278.8,429.5 284.8,430.2 289.3,434.7 293.8,440.7 299.8,440.7 304.2,439.9 307.2,443.7 311.7,449.7 314.7,458.6 319.2,460.9" fill="none" stroke="#fff" stroke-width="1.3" stroke-linejoin="round"/>
<polygon points="265.1,459.4 314.0,459.4 315.2,465.0 314.0,472.5 312.7,478.8 313.4,485.1 315.2,492.6 319.0,498.9 325.3,502.0 332.8,501.4 340.3,498.9 345.3,495.1 346.6,488.8 350.3,486.3 356.6,485.1 361.6,485.7 360.4,490.1 357.9,495.1 355.4,501.4 352.9,506.4 351.6,512.7 352.9,515.2 359.1,515.2 365.4,515.2 371.7,516.4 373.5,520.2 371.7,525.2 370.4,532.7 370.4,540.3 371.7,545.3 375.4,550.3 381.7,552.8 388.0,550.3 393.0,550.3 396.7,552.8 398.0,557.8 395.5,560.3 390.5,555.3 386.7,555.3 385.5,560.3 381.7,559.7 375.4,555.3 371.7,552.8 365.4,547.8 360.4,544.0 356.6,537.7 352.9,531.5 346.6,529.0 340.3,526.5 335.3,523.9 330.3,518.9 325.3,515.2 315.2,515.2 307.7,512.7 300.2,510.2 292.7,506.4 285.1,502.6 278.9,497.6 276.4,491.3 277.6,485.1 275.1,478.8 270.1,470.0 266.3,463.8" fill="#e9b4c6"/>
<polygon points="251.9,458.4 256.3,458.4 257.6,466.3 260.1,471.3 260.7,476.3 258.8,477.6 256.3,472.5 253.8,467.5 251.9,463.8" fill="#e9b4c6"/>
<polygon points="417.4,501.4 420.6,500.1 424.3,498.9 426.8,495.1 423.1,493.9 428.1,493.9 429.3,501.4 430.0,503.9 424.3,502.6" fill="#e9b4c6"/>
<polygon points="428.1,493.9 435.6,493.9 441.6,496.4 441.6,501.4 431.8,501.4 430.0,503.9 429.3,497.6" fill="#e9b4c6"/>
<polygon points="389.2,458.4 396.7,458.4 395.5,463.8 393.0,465.0 390.5,462.5" fill="#6a67ae"/>
<polygon points="398.0,582.0 398.6,560.3 399.2,555.3 403.0,552.8 408.0,547.8 413.0,542.8 418.1,537.7 423.1,535.2 428.1,535.2 430.6,537.7 433.1,540.3 441.6,537.7 441.6,582.0" fill="#e9b4c6"/>
<polygon points="425.0,547.8 427.5,546.5 428.1,550.3 425.6,551.5" fill="#ffffff"/>
<path d="M417.4,501.4 L420.6,500.1 L424.3,498.9 L426.8,495.1 L423.1,493.9 L428.1,493.9 L429.3,501.4 L430.0,503.9 L424.3,502.6 L417.4,501.4" fill="none" stroke="#fff" stroke-width="1.3" stroke-linejoin="round"/>
<path d="M428.1,493.9 L435.6,493.9 L441.6,496.4 M441.6,501.4 L431.8,501.4 L430.0,503.9 L429.3,497.6 L428.1,493.9" fill="none" stroke="#fff" stroke-width="1.3" stroke-linejoin="round"/>
<polyline points="352.9,500.1 350.3,502.6 346.6,503.9 341.6,505.1 339.1,508.9 342.8,512.7 335.3,515.2 334.0,518.9" fill="none" stroke="#fff" stroke-width="1.3" stroke-linejoin="round"/>
<polyline points="349.1,515.2 346.6,520.2 344.1,525.2" fill="none" stroke="#fff" stroke-width="1.3" stroke-linejoin="round"/>
<polyline points="356.6,530.2 362.9,523.9 372.9,520.2" fill="none" stroke="#fff" stroke-width="1.3" stroke-linejoin="round"/>
<polyline points="360.4,541.5 370.4,541.5" fill="none" stroke="#fff" stroke-width="1.3" stroke-linejoin="round"/>
<polyline points="372.9,547.8 375.4,555.3" fill="none" stroke="#fff" stroke-width="1.3" stroke-linejoin="round"/>
<polyline points="395.5,551.5 398.0,559.1" fill="none" stroke="#fff" stroke-width="1.3" stroke-linejoin="round"/>
<polyline points="426.8,535.2 420.6,541.5 418.1,547.8 420.6,554.0 421.8,560.3 428.1,562.8 434.4,562.8 440.6,566.6" fill="none" stroke="#fff" stroke-width="1.3" stroke-linejoin="round"/>
<polygon points="359.5,319.5 520.5,319.5 520.5,350.1 507.5,351.1 503.4,354.1 495.4,358.1 488.4,361.1 480.4,365.1 479.4,362.1 484.4,358.1 477.4,358.1 470.3,363.1 460.3,367.1 458.3,372.2 459.3,375.2 450.3,378.2 442.3,380.2 438.2,384.2 432.2,390.2 428.2,393.2 429.2,398.2 426.2,402.3 424.2,407.3 418.2,412.3 412.2,418.3 410.2,420.8 359.5,420.8" fill="#6a67ae"/>
<polygon points="464.3,347.6 470.3,344.1 478.4,339.1 486.4,332.0 494.4,330.0 502.4,329.0 512.5,327.0 521.3,325.0 521.3,339.1 513.5,344.1 508.5,347.1 506.5,350.1 500.4,351.1 494.4,350.1 490.4,347.1 492.4,343.1 490.4,339.1 485.4,338.1 480.4,340.1 475.4,344.1 470.3,346.6" fill="#ffffff"/>
<polygon points="430.2,318.7 438.2,318.7 438.2,323.0 435.2,324.5 432.2,323.0" fill="#ffffff"/>
<polygon points="495.4,332.0 500.4,332.5 503.4,334.5 498.4,334.0" fill="#6a67ae"/>
<polygon points="513.5,344.1 516.5,340.1 521.3,337.1 521.3,344.1" fill="#6a67ae"/>
<polygon points="491.4,348.6 495.4,349.1 498.4,350.1 493.4,350.1" fill="#6a67ae"/>
<polygon points="376.0,347.1 380.1,345.1 386.1,342.1 392.1,339.1 396.1,338.1 401.1,339.1 404.1,341.1 406.1,344.1 404.1,347.1 400.1,349.1 396.1,348.1 390.1,347.1 385.1,348.1 380.1,349.1" fill="#ffffff"/>
<polygon points="385.1,375.2 386.1,368.1 388.1,362.1 391.1,357.1 394.1,354.1 397.1,353.1 396.1,356.1 393.1,360.1 392.1,365.1 391.1,370.2 389.1,374.2" fill="#ffffff"/>
<polygon points="403.1,355.1 408.1,352.1 414.2,353.1 420.2,353.1 422.2,358.1 420.2,360.1 416.2,359.1 413.2,363.1 409.2,368.1 406.1,370.2 404.1,367.1 407.1,364.1 408.1,360.1 406.1,357.1" fill="#ffffff"/>
<polygon points="403.1,375.2 408.1,372.2 415.2,369.2 422.2,366.1 424.2,367.1 420.2,370.2 413.2,373.2 407.1,376.2 404.1,376.7" fill="#ffffff"/>
<polygon points="422.2,367.1 428.2,364.1 434.2,363.1 436.2,364.1 432.2,366.1 426.2,367.1" fill="#ffffff"/>
<polyline points="359.5,337.1 368.0,337.1 369.0,335.0 370.0,338.1 376.0,340.1 385.1,341.6" fill="none" stroke="#fff" stroke-width="1.3" stroke-linejoin="round"/>
<polyline points="422.2,366.1 430.2,364.1 440.2,359.1 450.3,357.3 460.3,355.1 465.3,350.1" fill="none" stroke="#fff" stroke-width="2.0" stroke-linejoin="round"/>
<polyline points="465.3,350.1 469.3,346.3 474.4,345.1 476.4,347.1 476.9,353.1 480.4,357.1" fill="none" stroke="#fff" stroke-width="1.3" stroke-linejoin="round"/>
<polygon points="397.9,557.9 403.9,549.9 409.9,541.9 417.8,539.9 425.8,535.9 429.8,539.9 435.8,537.9 441.8,539.9 453.7,543.9 465.7,543.9 473.7,542.9 477.7,555.9 481.6,557.9 485.6,565.9 493.6,567.8 501.6,568.8 505.6,570.8 517.5,577.8 519.5,579.8 523.5,589.8 525.5,599.7 535.5,605.7 545.4,609.7 553.4,613.7 569.4,615.7 581.3,619.7 589.3,627.7 595.3,635.6 596.3,643.6 589.3,655.6 581.3,665.5 577.3,675.5 577.3,689.5 573.3,699.4 571.4,711.4 569.4,721.0 441.8,721.0 439.8,711.4 435.8,703.4 425.8,695.4 415.9,687.5 407.9,679.5 401.9,671.5 395.9,659.6 389.9,647.6 384.0,635.6 380.0,627.7 382.0,619.7 382.0,607.7 385.9,599.7 389.9,593.8 391.9,583.8 395.9,571.8 397.9,559.9" fill="#e9b4c6"/>
<polygon points="431.8,595.8 435.8,591.8 445.8,595.8 457.7,593.8 459.7,587.8 457.7,579.8 469.7,577.8 477.7,576.8 479.6,587.8 483.6,593.8 493.6,591.8 497.6,588.8 505.6,587.8 507.6,571.8 511.5,570.8 517.5,577.8 519.5,579.8 523.5,589.8 525.5,599.7 535.5,605.7 545.4,609.7 553.4,613.7 569.4,615.7 581.3,619.7 589.3,627.7 595.3,635.6 597.9,643.6 589.3,655.6 581.3,665.5 577.3,675.5 577.3,689.5 573.3,699.4 571.4,711.4 569.4,723.0 493.6,723.0 491.6,707.4 491.6,691.5 483.6,687.5 479.6,677.5 469.7,671.5 457.7,665.5 453.7,655.6 441.8,657.6 431.8,659.6 431.8,651.6 423.8,651.6 417.8,643.6 417.8,635.6 423.8,627.7 431.8,623.7 430.8,613.7 433.8,603.7" fill="#ae99c9"/>
<polygon points="425.4,544.9 427.8,543.5 428.2,549.9 426.2,550.9" fill="#ffffff"/>
<path d="M431.8,595.8 L435.8,591.8 L445.8,595.8 L457.7,593.8 L459.7,587.8 L457.7,579.8 L469.7,577.8 L477.7,576.8 L479.6,587.8 L483.6,593.8 L493.6,591.8 L497.6,588.8 L505.6,587.8 L507.6,571.8 L511.5,570.8 L517.5,577.8 L519.5,579.8 L523.5,589.8 L525.5,599.7 L535.5,605.7 L545.4,609.7 L553.4,613.7 L569.4,615.7 L581.3,619.7 L589.3,627.7 L595.3,635.6 L597.9,643.6 L589.3,655.6 L581.3,665.5 L577.3,675.5 L577.3,689.5 L573.3,699.4 L571.4,711.4 L569.4,723.0 M493.6,723.0 L491.6,707.4 L491.6,691.5 L483.6,687.5 L479.6,677.5 L469.7,671.5 L457.7,665.5 L453.7,655.6 L441.8,657.6 L431.8,659.6 L431.8,651.6 L423.8,651.6 L417.8,643.6 L417.8,635.6 L423.8,627.7 L431.8,623.7 L430.8,613.7 L433.8,603.7 L431.8,595.8" fill="none" stroke="#fff" stroke-width="1.3" stroke-linejoin="round"/>
<polyline points="423.8,537.9 419.8,551.9 423.8,561.9 433.8,565.9 441.8,569.8 445.8,579.8 445.8,591.8 451.7,595.8 457.7,593.8" fill="none" stroke="#fff" stroke-width="1.3" stroke-linejoin="round"/>
<polyline points="477.7,556.9 473.7,567.8 477.7,573.8 479.6,587.8" fill="none" stroke="#fff" stroke-width="1.3" stroke-linejoin="round"/>
<polyline points="491.6,567.8 489.6,579.8 493.6,589.8" fill="none" stroke="#fff" stroke-width="1.3" stroke-linejoin="round"/>
<polyline points="505.6,570.8 507.6,587.8" fill="none" stroke="#fff" stroke-width="1.3" stroke-linejoin="round"/>
<polyline points="389.9,593.8 401.9,597.8 407.9,603.7 413.9,609.7 421.8,613.7 431.8,615.7" fill="none" stroke="#fff" stroke-width="1.3" stroke-linejoin="round"/>
<polyline points="382.0,619.7 389.9,623.7 397.9,617.7 405.9,605.7" fill="none" stroke="#fff" stroke-width="1.3" stroke-linejoin="round"/>
<polyline points="437.8,659.6 439.8,671.5 437.8,685.5 439.8,695.4 445.8,711.4 443.8,721.0" fill="none" stroke="#fff" stroke-width="1.3" stroke-linejoin="round"/>
<polyline points="473.7,721.0 473.7,707.4 481.6,705.4 491.6,707.4" fill="none" stroke="#fff" stroke-width="1.3" stroke-linejoin="round"/>
<polygon points="477.1,184.9 489.7,182.7 500.6,181.6 511.6,180.5 522.6,179.9 540.7,179.9 540.7,188.2 531.3,190.4 522.6,192.5 516.0,195.3 511.6,198.0 503.9,200.2 500.6,203.5 489.7,204.6 478.7,205.2 467.7,205.2 465.0,204.1 471.0,201.9 475.4,199.7 480.9,196.9 485.3,194.7 483.1,192.5 484.2,189.3 480.9,187.1" fill="#6a67ae"/>
<polygon points="454.6,191.4 459.0,188.7 467.7,187.1 474.3,187.6 482.0,189.3 484.2,192.5 480.9,195.8 474.3,197.5 467.7,198.0 461.1,196.9 456.8,194.7" fill="#6a67ae"/>
<polygon points="441.4,204.6 445.8,203.0 451.3,204.1 456.8,206.8 463.3,208.4 473.2,209.0 484.2,209.0 490.8,210.1 489.7,212.8 478.7,213.4 467.7,213.4 459.0,212.8 452.4,211.2 449.1,207.9 444.7,206.8" fill="#6a67ae"/>
<polygon points="420.6,195.3 425.0,194.5 431.5,195.8 434.8,196.9 434.3,198.6 429.3,198.6 423.9,197.5" fill="#6a67ae"/>
<polygon points="441.4,196.9 445.8,196.1 450.2,197.5 452.4,200.2 446.9,200.2 443.1,198.9" fill="#6a67ae"/>
<polygon points="391.0,200.2 396.4,198.0 401.9,196.4 405.2,197.5 400.8,199.1 395.4,200.4" fill="#6a67ae"/>
<polygon points="378.6,206.8 384.4,205.7 391.0,205.2 396.4,204.4 400.8,205.7 406.3,207.4 405.2,210.1 399.7,211.2 393.2,212.3 386.6,212.8 378.6,212.8" fill="#6a67ae"/>
<polygon points="418.9,207.9 423.9,206.3 430.4,205.5 434.8,206.8 432.6,209.5 427.2,211.2 421.7,210.1" fill="#6a67ae"/>
<polygon points="435.9,211.2 440.3,209.9 444.7,210.3 443.6,212.3 438.1,212.8" fill="#6a67ae"/>
<polygon points="408.0,221.6 412.9,218.9 418.4,217.8 426.1,217.2 427.2,218.9 425.0,222.2 421.7,225.4 416.2,226.5 411.8,224.9" fill="#6a67ae"/>
<polygon points="430.4,222.2 433.7,218.9 439.2,216.7 445.8,216.1 450.2,216.7 445.8,218.9 441.4,221.1 434.8,223.3 431.5,223.8" fill="#6a67ae"/>
<polygon points="378.6,218.9 383.3,218.9 386.6,220.5 391.0,221.1 395.4,218.9 397.5,220.0 396.4,223.3 396.4,227.6 401.9,230.9 403.0,234.2 399.7,236.4 394.3,237.5 388.8,236.4 384.4,236.4 378.6,237.0" fill="#6a67ae"/>
<polygon points="407.4,235.9 412.9,233.7 417.3,234.8 418.4,237.5 414.0,238.6 409.6,238.1" fill="#6a67ae"/>
<polygon points="378.6,239.7 384.4,240.8 388.8,242.4 396.4,243.5 401.9,244.1 407.4,241.9 412.9,240.8 415.1,242.4 418.4,241.9 420.6,239.7 421.7,236.4 422.8,230.9 425.0,227.6 429.3,225.4 433.7,226.5 435.9,230.9 438.1,234.2 441.4,235.3 443.6,239.7 445.8,243.0 443.6,246.3 439.2,250.7 434.8,254.0 429.3,258.3 423.9,261.6 418.4,263.8 412.9,266.0 407.4,269.3 401.9,273.7 397.5,278.1 394.3,286.4 378.6,286.4" fill="#6a67ae"/>
<polygon points="448.0,226.5 450.2,223.3 456.8,220.0 463.3,218.3 471.0,217.8 478.7,218.3 482.0,220.0 485.3,221.1 489.7,222.2 496.2,224.3 500.6,226.5 506.1,228.7 511.6,229.8 518.2,232.0 520.4,236.4 517.1,239.7 522.6,243.0 529.1,246.3 533.5,248.5 531.3,251.8 525.8,254.0 522.6,256.1 518.2,254.0 514.9,251.8 511.6,250.7 509.4,254.0 512.7,258.3 516.0,262.7 516.0,267.1 511.6,269.3 508.3,270.4 500.6,267.1 496.2,266.0 493.0,261.6 488.6,259.4 485.3,257.2 478.7,258.3 473.2,259.4 471.0,257.2 475.4,256.1 484.2,255.6 488.6,254.0 489.7,249.6 494.0,245.2 493.0,240.8 488.6,237.5 485.3,235.3 480.9,233.7 476.5,234.2 469.9,234.2 463.3,233.7 456.8,233.1 451.3,232.0 447.4,229.8" fill="#6a67ae"/>
<polygon points="481.4,245.2 485.3,242.4 488.6,243.0 487.5,245.7 483.1,246.3" fill="#ffffff"/>
<polygon points="448.0,236.4 454.6,234.2 459.0,234.8 466.6,235.9 469.9,238.1 466.6,241.9 463.3,246.3 459.0,249.6 453.5,250.7 449.1,249.6 445.8,247.4 446.9,243.0" fill="#6a67ae"/>
<polygon points="435.9,262.7 441.4,258.3 445.8,254.0 450.2,256.1 456.8,259.4 460.1,262.7 456.8,263.8 450.2,262.7 445.8,263.8 441.4,266.0 438.1,264.9" fill="#6a67ae"/>
<polygon points="444.7,268.2 450.2,266.9 451.3,268.2 445.8,269.3" fill="#6a67ae"/>
<polygon points="456.8,270.4 460.1,269.3 460.6,271.5 457.9,272.1" fill="#6a67ae"/>
<polygon points="459.0,286.4 463.3,275.9 466.6,270.4 473.2,269.3 480.9,270.4 486.4,271.5 489.7,275.9 493.0,279.2 494.0,286.4" fill="#6a67ae"/>
<polygon points="505.0,286.4 509.4,281.4 511.6,279.2 513.8,286.4" fill="#6a67ae"/>
<polygon points="399.4,295.3 405.2,294.6 413.0,297.2 419.4,301.1 425.9,304.4 431.1,307.6 430.5,315.4 432.4,321.2 433.7,321.9 399.4,321.9" fill="#6a67ae"/>
<polygon points="435.7,324.5 438.9,323.2 441.5,319.3 442.8,308.9 448.0,305.0 453.2,301.1 458.3,295.9 459.0,290.7 457.1,286.9 462.2,283.0 464.8,277.8 464.2,272.6 466.1,268.3 484.3,268.3 488.2,272.6 493.4,275.2 492.7,279.1 495.3,284.3 498.5,288.2 503.7,285.6 508.9,282.3 512.8,279.7 515.4,286.9 518.0,294.6 524.5,302.4 529.7,306.3 532.3,310.2 534.2,315.4 533.5,319.3 531.0,321.9 433.7,321.9" fill="#6a67ae"/>
<polygon points="514.1,342.6 516.7,337.4 521.9,332.2 527.1,327.1 532.3,323.2 531.0,328.3 533.5,332.2 537.4,336.1 540.4,340.0 538.7,346.5 536.1,348.4 533.5,346.5 529.7,347.1 525.8,347.8 523.2,350.1 521.9,346.5 518.0,343.9" fill="#6a67ae"/>
<polygon points="436.6,699.0 494.2,699.0 495.2,710.5 496.3,720.9 506.8,727.2 510.9,733.5 513.0,741.9 513.0,748.1 506.8,754.4 502.6,762.8 500.5,771.2 492.1,783.7 462.8,783.7 452.3,825.6 462.8,875.8 469.1,880.0 477.5,884.2 483.7,888.4 492.1,892.6 498.4,895.7 490.0,896.8 479.5,895.7 467.0,892.6 456.5,882.1 452.3,871.7 448.1,859.1 446.1,846.5 444.0,836.1 441.9,825.6 439.8,808.9 439.8,794.2 438.7,773.3 439.8,752.3 440.8,731.4 439.8,712.6" fill="#e9b4c6"/>
<polygon points="450.2,731.4 454.4,720.9 462.8,719.9 467.0,720.9 473.3,719.9 479.5,725.1 487.9,731.4 496.3,737.7 496.3,746.1 504.7,748.1 510.9,744.0 515.1,744.0 513.0,748.1 506.8,754.4 502.6,762.8 500.5,771.2 502.6,783.7 504.7,790.0 508.9,794.2 509.9,802.6 504.7,808.9 494.2,810.9 490.0,817.2 489.0,822.5 487.3,834.8 484.4,847.2 482.7,859.5 478.3,872.1 476.6,877.9 479.5,882.1 481.6,884.2 469.1,880.0 462.8,875.8 458.6,867.5 456.5,859.1 454.4,846.5 451.3,834.0 450.2,817.2 449.2,800.5 448.1,783.7 446.1,762.8 448.1,746.1" fill="#ae99c9"/>
<polygon points="480.6,885.3 487.9,888.4 494.2,892.6 499.4,895.7 492.1,895.7 483.7,892.6" fill="#ae99c9"/>
<polygon points="473.3,708.4 479.5,706.3 490.0,706.3 494.2,712.6 496.3,720.9 506.8,727.2 510.9,733.5 513.0,741.9 508.9,748.1 498.4,748.1 494.2,741.9 490.0,733.5 479.5,725.1 473.3,719.9 473.3,712.6" fill="#e9b4c6"/>
<polygon points="494.2,697.3 577.5,697.3 573.7,710.5 571.7,718.8 563.3,723.0 550.7,729.3 542.3,737.7 538.2,748.1 538.2,756.5 534.0,762.8 525.6,771.2 521.4,779.5 517.2,775.4 508.9,767.0 502.6,762.8 506.8,754.4 513.0,748.1 515.1,741.9 510.9,733.5 506.8,727.2 496.3,720.9 495.2,710.5" fill="#ae99c9"/>
<polygon points="502.6,762.8 508.9,767.0 517.2,775.4 521.4,779.5 521.4,785.8 515.1,787.9 506.8,785.8 501.5,781.6 500.5,771.2" fill="#ae99c9"/>
<polygon points="513.0,877.9 518.3,876.9 523.5,878.4 519.3,880.4 514.1,880.0" fill="#d0d1d1"/>
<path d="M450.2,731.4 L454.4,720.9 L462.8,719.9 L467.0,720.9 L473.3,719.9 L479.5,725.1 L487.9,731.4 L496.3,737.7 L496.3,746.1 L504.7,748.1 L510.9,744.0 L515.1,744.0 L513.0,748.1 L506.8,754.4 L502.6,762.8 L500.5,771.2 L502.6,783.7 L504.7,790.0 L508.9,794.2 L509.9,802.6 L504.7,808.9 L494.2,810.9 L490.0,817.2 L489.0,822.5 L487.3,834.8 L484.4,847.2 L482.7,859.5 L478.3,872.1 L476.6,877.9 L479.5,882.1 L481.6,884.2 L469.1,880.0 L462.8,875.8 L458.6,867.5 L456.5,859.1 L454.4,846.5 L451.3,834.0 L450.2,817.2 L449.2,800.5 L448.1,783.7 L446.1,762.8 L448.1,746.1 L450.2,731.4" fill="none" stroke="#fff" stroke-width="1.3" stroke-linejoin="round"/>
<path d="M480.6,885.3 L487.9,888.4 L494.2,892.6 L499.4,895.7 L492.1,895.7 L483.7,892.6 L480.6,885.3" fill="none" stroke="#fff" stroke-width="1.3" stroke-linejoin="round"/>
<path d="M473.3,708.4 L479.5,706.3 L490.0,706.3 L494.2,712.6 L496.3,720.9 L506.8,727.2 L510.9,733.5 L513.0,741.9 L508.9,748.1 L498.4,748.1 L494.2,741.9 L490.0,733.5 L479.5,725.1 L473.3,719.9 L473.3,712.6 L473.3,708.4" fill="none" stroke="#fff" stroke-width="1.3" stroke-linejoin="round"/>
<path d="M577.5,697.3 L573.7,710.5 L571.7,718.8 L563.3,723.0 L550.7,729.3 L542.3,737.7 L538.2,748.1 L538.2,756.5 L534.0,762.8 L525.6,771.2 L521.4,779.5 L517.2,775.4 L508.9,767.0 L502.6,762.8 L506.8,754.4 L513.0,748.1 L515.1,741.9 L510.9,733.5 L506.8,727.2 L496.3,720.9 L495.2,710.5 L494.2,697.3" fill="none" stroke="#fff" stroke-width="1.3" stroke-linejoin="round"/>
<path d="M502.6,762.8 L508.9,767.0 L517.2,775.4 L521.4,779.5 L521.4,785.8 L515.1,787.9 L506.8,785.8 L501.5,781.6 L500.5,771.2 L502.6,762.8" fill="none" stroke="#fff" stroke-width="1.3" stroke-linejoin="round"/>
<polygon points="522.6,198.7 533.2,196.1 546.3,191.5 559.5,186.2 575.3,184.2 592.4,183.6 605.6,182.9 616.1,181.6 631.9,180.3 645.1,178.9 664.8,179.6 678.0,180.3 692.5,181.6 688.5,184.2 701.7,185.5 718.8,185.8 704.3,188.2 696.4,192.1 693.8,196.1 695.1,202.6 691.2,206.6 692.5,210.5 688.5,214.5 687.2,218.4 680.6,222.4 681.9,229.0 678.0,232.9 664.8,235.6 651.7,239.5 638.5,243.5 625.3,248.7 614.8,252.7 608.2,256.6 606.9,261.9 599.0,267.2 596.4,273.7 591.1,279.0 585.8,279.0 577.9,275.1 572.7,269.8 567.4,260.6 564.8,251.4 565.4,244.8 568.7,239.5 567.4,234.2 566.7,230.3 570.0,226.3 567.4,223.7 568.7,218.4 566.1,211.9 559.5,207.3 546.3,206.6 533.2,204.6 525.3,202.6" fill="#d0d1d1"/>
<polygon points="670.1,252.7 676.7,250.7 683.3,252.0 691.2,250.7 704.3,250.0 707.0,255.3 699.1,259.3 689.8,262.6 678.0,261.9 674.0,259.3 670.1,257.3" fill="#ae99c9"/>
<polygon points="518.3,180.3 539.7,180.0 559.5,180.5 570.0,181.8 559.5,184.2 546.3,186.8 533.2,190.8 518.3,193.4" fill="#6a67ae"/>
<polygon points="523.9,200.9 539.7,199.8 552.9,198.4 560.8,197.6 552.9,200.8 539.7,202.1 525.3,202.1" fill="#ffffff"/>
<polygon points="696.4,201.3 689.8,202.0 695.8,203.3" fill="#ffffff"/>
<polygon points="692.5,210.5 687.9,211.6 691.8,212.5" fill="#ffffff"/>
<polygon points="688.5,217.8 681.3,218.7 687.9,219.8" fill="#ffffff"/>
<polygon points="681.9,223.7 675.4,224.0 681.3,225.7" fill="#ffffff"/>
<polygon points="682.6,229.0 674.0,227.7 681.3,230.3" fill="#ffffff"/>
<polygon points="680.0,232.9 664.8,234.0 678.0,234.5" fill="#ffffff"/>
<polygon points="566.7,231.0 572.7,230.3 577.9,232.9 575.3,235.6 567.4,234.9" fill="#ffffff"/>
<polygon points="566.1,223.7 570.0,223.1 572.7,225.7 568.7,227.0" fill="#ffffff"/>
<polygon points="734.4,406.9 741.2,406.1 749.7,406.9 758.1,403.6 771.7,401.9 786.9,400.2 792.0,401.9 798.8,400.2 805.6,401.9 803.9,412.0 802.2,415.4 805.6,422.2 810.7,423.9 817.5,425.6 825.9,429.0 832.7,434.1 841.2,435.8 846.3,429.0 849.7,424.7 856.4,423.9 864.9,426.4 871.7,430.7 871.7,561.2 695.4,561.2 692.0,552.7 688.6,545.9 683.6,539.2 680.2,534.1 680.2,527.3 678.5,520.5 680.2,515.4 682.7,508.6 683.6,500.2 681.9,491.7 681.0,484.9 683.6,478.1 686.9,471.4 690.3,464.6 695.4,457.8 698.8,452.7 703.9,449.3 710.7,444.2 714.1,437.5 715.8,430.7 720.8,423.9 727.6,417.1 732.7,412.0" fill="#e9b4c6"/>
<polygon points="700.5,451.9 719.2,451.9 719.2,459.5 705.6,459.5 703.9,464.6 700.5,474.7 698.8,484.9 681.0,484.9 683.6,478.1 686.9,471.4 690.3,464.6 695.4,457.8" fill="#d0d1d1"/>
<polygon points="681.0,485.8 698.8,485.8 700.5,474.7 703.9,464.6 705.6,459.5 719.2,459.5 719.2,454.4 729.3,462.9 731.0,466.3 731.9,515.4 703.9,518.8 700.5,515.4 692.0,512.0 685.3,512.0 682.7,508.6 683.6,500.2 681.9,491.7" fill="#fde5d6"/>
<polygon points="776.8,498.5 788.6,488.3 802.2,479.8 810.7,474.7 815.8,473.1 824.2,475.6 825.9,491.7 822.5,508.6 820.8,518.8 822.5,529.0 814.1,530.7 797.1,529.0 778.5,527.3 775.1,525.6 771.7,517.1 776.8,508.6" fill="#fde5d6"/>
<polygon points="825.1,475.6 832.7,474.7 849.7,483.2 873.1,493.4 873.1,562.5 825.9,562.5 827.6,545.9 822.5,529.0 820.8,518.8 822.5,508.6 825.9,491.7" fill="#fde5d6"/>
<polygon points="759.8,520.5 771.7,517.1 776.8,518.8 778.5,525.6 775.1,534.1 768.3,535.8 761.5,530.7" fill="#fde5d6"/>
<polygon points="680.2,532.4 693.7,533.2 693.7,537.5 681.9,537.5" fill="#fde5d6"/>
<polygon points="682.2,423.1 683.9,423.1 683.9,424.7 682.2,424.7" fill="#6a67ae"/>
<polygon points="682.2,446.8 683.9,446.8 683.9,448.5 682.2,448.5" fill="#6a67ae"/>
<path d="M700.5,451.9 L719.2,451.9 L719.2,459.5 L705.6,459.5 L703.9,464.6 L700.5,474.7 L698.8,484.9 L681.0,484.9 L683.6,478.1 L686.9,471.4 L690.3,464.6 L695.4,457.8 L700.5,451.9" fill="none" stroke="#fff" stroke-width="1.3" stroke-linejoin="round"/>
<path d="M681.0,485.8 L698.8,485.8 L700.5,474.7 L703.9,464.6 L705.6,459.5 L719.2,459.5 L719.2,454.4 L729.3,462.9 L731.0,466.3 L731.9,515.4 L703.9,518.8 L700.5,515.4 L692.0,512.0 L685.3,512.0 L682.7,508.6 L683.6,500.2 L681.9,491.7 L681.0,485.8" fill="none" stroke="#fff" stroke-width="1.3" stroke-linejoin="round"/>
<path d="M776.8,498.5 L788.6,488.3 L802.2,479.8 L810.7,474.7 L815.8,473.1 L824.2,475.6 L825.9,491.7 L822.5,508.6 L820.8,518.8 L822.5,529.0 L814.1,530.7 L797.1,529.0 L778.5,527.3 L775.1,525.6 L771.7,517.1 L776.8,508.6 L776.8,498.5" fill="none" stroke="#fff" stroke-width="1.3" stroke-linejoin="round"/>
<path d="M759.8,520.5 L771.7,517.1 L776.8,518.8 L778.5,525.6 L775.1,534.1 L768.3,535.8 L761.5,530.7 L759.8,520.5" fill="none" stroke="#fff" stroke-width="1.3" stroke-linejoin="round"/>
<path d="M680.2,532.4 L693.7,533.2 L693.7,537.5 L681.9,537.5 L680.2,532.4" fill="none" stroke="#fff" stroke-width="1.3" stroke-linejoin="round"/>
<polyline points="749.7,408.6 753.1,423.9 741.2,430.7 731.0,435.8 720.8,442.5 719.2,451.9" fill="none" stroke="#fff" stroke-width="1.3" stroke-linejoin="round"/>
<polyline points="795.4,401.9 792.0,417.1 800.5,430.7 802.2,439.2" fill="none" stroke="#fff" stroke-width="1.3" stroke-linejoin="round"/>
<polyline points="802.2,439.2 800.5,457.8 803.9,466.3 810.7,473.1" fill="none" stroke="#fff" stroke-width="1.3" stroke-linejoin="round"/>
<polyline points="719.2,454.4 734.4,466.3 751.4,478.1 764.9,490.0 773.4,496.8 788.6,488.3 810.7,474.7" fill="none" stroke="#fff" stroke-width="1.3" stroke-linejoin="round"/>
<polyline points="825.1,475.6 825.9,491.7 822.5,508.6 820.8,518.8 822.5,529.0 827.6,545.9 825.9,561.2" fill="none" stroke="#fff" stroke-width="1.3" stroke-linejoin="round"/>
<polyline points="810.7,474.7 824.2,475.6 832.7,474.7 849.7,483.2 871.7,493.4" fill="none" stroke="#fff" stroke-width="1.3" stroke-linejoin="round"/>
<polyline points="761.5,518.8 751.4,520.5 741.2,525.6 734.4,534.1 734.4,542.5" fill="none" stroke="#fff" stroke-width="1.3" stroke-linejoin="round"/>
<polyline points="703.9,518.8 700.5,525.6 703.9,532.4 717.5,534.1 720.8,542.5 719.2,561.2" fill="none" stroke="#fff" stroke-width="1.3" stroke-linejoin="round"/>
<polyline points="744.6,540.8 761.5,540.8 764.9,561.2" fill="none" stroke="#fff" stroke-width="1.3" stroke-linejoin="round"/>
<polyline points="775.1,534.1 778.5,542.5 771.7,561.2" fill="none" stroke="#fff" stroke-width="1.3" stroke-linejoin="round"/>
<polyline points="680.2,529.8 693.7,529.8" fill="none" stroke="#fff" stroke-width="1.3" stroke-linejoin="round"/>
<polygon points="686.9,539.2 692.0,546.8 697.1,553.6 703.9,562.0 712.4,568.8 720.8,575.6 729.3,575.6 737.8,573.9 746.3,574.7 754.7,572.2 763.2,568.8 771.7,568.0 778.5,568.8 781.9,573.9 788.6,577.3 797.1,576.4 800.5,582.4 802.2,589.2 800.5,595.9 798.8,604.4 802.2,611.2 809.0,618.0 812.4,624.7 815.8,633.2 819.2,641.7 819.2,650.2 819.2,658.6 817.5,667.1 814.1,675.6 812.4,684.1 812.4,692.5 814.1,701.0 815.8,711.2 871.7,711.2 871.7,539.2" fill="#e9b4c6"/>
<polygon points="824.2,537.8 873.1,537.8 873.1,573.9 859.8,577.3 848.0,575.6 839.5,575.6 831.0,577.3 825.9,570.5 824.2,560.3 825.9,550.2" fill="#fde5d6"/>
<polygon points="812.4,623.1 817.5,618.0 822.5,612.9 823.4,604.4 822.5,595.9 819.2,590.8 829.3,589.2 832.7,582.4 839.5,579.0 844.6,575.6 841.2,590.8 836.1,604.4 832.7,614.6 825.9,624.7 817.5,629.8 814.9,631.5" fill="#fde5d6"/>
<polygon points="787.5,598.1 789.8,598.1 789.8,600.5 787.5,600.5" fill="#d0d1d1"/>
<polygon points="690.0,642.2 692.4,642.2 692.4,644.6 690.0,644.6" fill="#d0d1d1"/>
<polygon points="730.7,685.4 733.1,685.4 733.1,687.8 730.7,687.8" fill="#d0d1d1"/>
<path d="M873.1,573.9 L859.8,577.3 L848.0,575.6 L839.5,575.6 L831.0,577.3 L825.9,570.5 L824.2,560.3 L825.9,550.2 L824.2,537.8" fill="none" stroke="#fff" stroke-width="1.3" stroke-linejoin="round"/>
<path d="M812.4,623.1 L817.5,618.0 L822.5,612.9 L823.4,604.4 L822.5,595.9 L819.2,590.8 L829.3,589.2 L832.7,582.4 L839.5,579.0 L844.6,575.6 L841.2,590.8 L836.1,604.4 L832.7,614.6 L825.9,624.7 L817.5,629.8 L814.9,631.5 L812.4,623.1" fill="none" stroke="#fff" stroke-width="1.3" stroke-linejoin="round"/>
<polyline points="797.1,576.4 802.2,565.4 809.0,562.0 815.8,550.2 819.2,539.2" fill="none" stroke="#fff" stroke-width="1.3" stroke-linejoin="round"/>
<polyline points="802.2,589.2 822.5,589.2 831.0,589.2" fill="none" stroke="#fff" stroke-width="1.3" stroke-linejoin="round"/>
<polyline points="802.2,595.1 822.5,595.1" fill="none" stroke="#fff" stroke-width="1.3" stroke-linejoin="round"/>
<polyline points="815.8,632.4 834.4,632.4 839.5,641.7 848.0,640.0 858.1,641.7 859.8,658.6 871.7,658.6" fill="none" stroke="#fff" stroke-width="1.3" stroke-linejoin="round"/>
<polyline points="812.4,692.5 822.5,692.5 839.5,695.9 853.1,695.9 871.7,694.2" fill="none" stroke="#fff" stroke-width="1.3" stroke-linejoin="round"/>
<polyline points="858.1,658.6 859.8,670.5 859.8,692.5 853.1,695.9 853.1,711.2" fill="none" stroke="#fff" stroke-width="1.3" stroke-linejoin="round"/>
<polyline points="697.1,548.5 707.3,546.8 712.4,556.9 717.5,563.7 720.8,575.6" fill="none" stroke="#fff" stroke-width="1.3" stroke-linejoin="round"/>
<polyline points="719.2,539.2 720.8,560.3 722.5,575.6" fill="none" stroke="#fff" stroke-width="1.3" stroke-linejoin="round"/>
<polyline points="744.6,539.2 742.9,560.3 744.6,573.9" fill="none" stroke="#fff" stroke-width="1.3" stroke-linejoin="round"/>
<polyline points="761.5,539.2 761.5,567.1" fill="none" stroke="#fff" stroke-width="1.3" stroke-linejoin="round"/>
<polyline points="766.6,539.2 766.6,567.1" fill="none" stroke="#fff" stroke-width="1.3" stroke-linejoin="round"/>
<polyline points="771.7,539.2 770.0,567.1" fill="none" stroke="#fff" stroke-width="1.3" stroke-linejoin="round"/>
<polygon points="791.5,192.5 800.3,191.3 807.8,190.7 815.4,191.3 817.9,190.0 825.4,189.0 835.4,189.4 843.6,191.0 837.9,192.5 826.6,194.4 820.4,195.7 816.6,197.6 815.4,200.1 814.7,203.8 807.8,203.2 802.8,201.3 797.8,196.9" fill="#6a67ae"/>
<polygon points="825.4,198.8 830.4,197.6 837.3,199.4 831.7,200.7" fill="#6a67ae"/>
<polygon points="776.5,271.5 781.5,267.8 787.8,265.3 792.8,261.5 797.8,256.5 802.8,252.7 806.6,247.7 810.3,243.9 816.6,240.2 822.9,236.4 830.4,233.9 840.4,230.2 848.0,228.7 855.5,228.3 860.5,229.5 866.8,231.4 861.8,233.9 860.5,236.4 859.2,233.9 854.2,233.3 850.5,235.2 846.7,236.4 841.7,238.9 832.9,237.1 829.2,239.6 821.6,241.4 816.6,243.9 812.9,250.2 809.1,255.2 806.6,261.5 802.8,262.8 804.1,267.8 804.1,274.0 802.8,280.3 800.3,284.1 795.3,285.3 790.3,287.8 784.0,289.1 780.3,286.6 777.7,280.3" fill="#6a67ae"/>
<polygon points="804.1,262.8 806.6,261.5 809.1,255.2 812.9,250.2 816.6,243.9 821.6,241.4 829.2,239.6 832.9,237.1 841.7,238.9 842.9,245.2 844.2,251.5 837.9,255.2 835.4,260.3 825.4,267.8 822.9,272.8 826.6,279.1 825.4,284.1 820.4,287.8 820.4,302.0 802.8,302.0 800.3,290.3 801.6,284.1 804.1,280.3" fill="#ae99c9"/>
<polygon points="841.7,238.9 846.7,236.4 850.5,235.2 854.2,233.3 859.2,233.9 860.5,236.4 863.0,243.9 865.5,250.2 869.3,257.7 874.3,267.8 870.5,275.3 866.8,279.1 859.2,280.3 850.5,281.6 844.2,280.3 839.2,275.3 837.9,269.0 836.7,262.8 837.9,256.5 844.2,254.0 849.2,255.2 844.2,251.5 842.9,245.2" fill="#ae99c9"/>
<polygon points="860.5,236.4 866.8,235.2 875.5,236.4 888.1,238.9 901.6,241.4 901.6,302.0 864.3,302.0 865.5,292.9 866.8,286.6 866.8,279.1 870.5,275.3 874.3,267.8 869.3,257.7 865.5,250.2 863.0,243.9" fill="#ae99c9"/>
<polygon points="880.6,251.5 888.1,250.2 901.6,252.7 901.6,260.3 894.4,261.5 893.1,257.7 888.1,255.2 884.3,256.5" fill="#ffffff"/>
<polygon points="848.0,284.1 856.7,282.8 866.8,282.8 864.3,290.3 856.7,290.3 850.5,289.1" fill="#ae99c9"/>
<polygon points="840.4,297.2 846.7,292.9 854.2,292.2 863.0,292.9 866.8,302.0 841.7,302.0" fill="#6a67ae"/>
<polygon points="790.3,297.9 795.3,294.1 799.1,292.9 800.3,302.0 790.3,302.0" fill="#6a67ae"/>
<polygon points="735.1,294.1 740.1,289.1 745.1,287.8 750.2,292.9 747.6,302.0 733.9,302.0" fill="#6a67ae"/>
<polyline points="859.2,233.9 854.2,233.3 850.5,235.2 846.7,236.4 841.7,238.9 832.9,237.1 829.2,239.6 821.6,241.4 816.6,243.9 812.9,250.2 809.1,255.2 806.6,261.5 802.8,262.8 804.1,267.8 804.1,274.0 802.8,280.3 800.3,284.1" fill="none" stroke="#fff" stroke-width="1.3" stroke-linejoin="round"/>
<polyline points="841.7,238.9 842.9,245.2 844.2,251.5" fill="none" stroke="#fff" stroke-width="1.3" stroke-linejoin="round"/>
<polyline points="860.5,236.4 863.0,243.9 865.5,250.2 869.3,257.7 874.3,267.8 870.5,275.3 866.8,279.1" fill="none" stroke="#fff" stroke-width="1.3" stroke-linejoin="round"/>
<polygon points="735.1,290.0 741.4,290.0 743.9,292.5 748.9,293.8 747.6,298.8 745.1,301.3 750.2,303.8 753.9,308.8 757.7,313.8 761.4,316.3 763.9,320.1 762.7,322.6 757.7,325.1 752.7,326.4 747.6,326.4 742.6,328.9 736.4,331.4 735.1,330.1 740.1,326.4 741.4,322.6 738.9,320.1 740.1,315.1 742.6,311.3 740.1,307.6 738.9,303.8 736.4,301.3 735.1,296.3" fill="#6a67ae"/>
<polygon points="718.8,320.1 720.1,315.1 722.6,310.1 726.3,307.6 728.8,305.7 732.6,305.0 733.9,308.8 733.2,311.9 732.6,316.3 730.1,320.1 725.1,321.3 720.1,322.6" fill="#6a67ae"/>
<polygon points="790.3,297.5 792.8,295.0 797.8,293.1 799.1,297.5 796.6,301.3 795.3,306.3 791.5,305.0" fill="#6a67ae"/>
<polygon points="801.6,301.9 805.3,300.7 807.2,302.5 805.3,305.0 802.2,304.4" fill="#6a67ae"/>
<polygon points="802.8,288.4 822.9,288.4 821.6,297.5 816.6,301.3 810.3,302.5 806.6,297.5" fill="#ae99c9"/>
<polygon points="840.4,296.3 844.2,292.5 850.5,292.5 856.7,291.3 863.0,291.9 866.8,296.3 864.3,300.0 856.7,298.8 849.2,298.8 841.7,299.4" fill="#6a67ae"/>
<polygon points="841.7,300.0 849.2,299.4 856.7,299.4 863.0,300.7 860.5,306.3 856.7,308.8 850.5,308.8 844.2,307.6 837.9,306.3 840.4,303.8" fill="#ae99c9"/>
<polygon points="866.8,288.4 901.6,288.4 901.6,360.2 895.6,356.5 888.1,348.9 881.8,341.4 881.8,327.6 885.6,320.1 885.6,312.6 879.3,302.5 869.3,300.0 864.3,300.0 866.8,296.3" fill="#ae99c9"/>
<polygon points="856.7,308.8 863.0,301.3 869.3,300.0 879.3,302.5 885.6,312.6 883.1,318.8 875.5,320.1 863.0,321.3 854.2,320.1 853.0,313.8" fill="#ae99c9"/>
<polygon points="815.4,311.3 820.4,308.8 830.4,307.6 837.9,307.6 844.2,308.8 850.5,310.1 853.0,313.8 854.2,320.1 855.5,327.6 850.5,331.4 844.2,332.6 835.4,331.4 830.4,330.1 824.1,327.6 817.9,326.4 815.4,320.1" fill="#ae99c9"/>
<polygon points="785.3,313.8 790.3,308.8 795.3,306.3 800.3,308.8 806.6,308.8 812.9,310.7 815.4,313.8 815.4,320.1 817.9,326.4 810.3,330.1 809.1,333.9 812.9,337.6 810.3,341.4 802.8,342.7 795.3,343.9 790.3,342.7 789.7,337.6 786.5,335.1 782.8,332.6 783.4,326.4 785.3,322.6" fill="#6a67ae"/>
<polygon points="774.0,323.9 776.5,317.6 780.3,313.8 785.3,313.8 785.3,322.6 782.8,325.1 777.7,325.7" fill="#6a67ae"/>
<polygon points="768.3,326.4 774.0,324.5 777.7,325.7 782.8,326.4 783.4,331.4 780.3,332.6 775.2,330.1 770.2,327.6" fill="#6a67ae"/>
<polygon points="740.1,338.9 745.1,337.6 748.9,335.1 752.7,333.9 757.7,332.6 763.9,327.6 768.3,326.4 775.2,330.1 780.3,332.6 783.4,332.6 786.5,335.1 789.7,337.6 790.3,342.7 786.5,346.4 784.0,348.9 786.5,355.2 787.8,360.2 789.0,364.0 786.5,366.5 780.3,367.7 775.2,369.0 770.2,370.3 765.2,370.3 760.2,369.0 753.9,366.5 751.4,365.2 752.7,357.7 752.7,350.2 750.2,345.2 745.1,342.7" fill="#6a67ae"/>
<polygon points="795.3,370.3 797.8,369.0 798.4,374.0 796.6,376.5 795.0,374.0" fill="#6a67ae"/>
<polygon points="783.4,347.7 787.8,345.2 792.8,343.9 797.8,345.2 800.3,347.7 797.8,350.2 794.0,351.4 790.3,352.7 786.5,351.4" fill="#6a67ae"/>
<polygon points="786.5,355.2 790.3,352.7 794.0,351.4 797.8,350.2 800.3,347.7 805.3,346.4 810.3,345.2 815.4,347.7 816.6,351.4 815.4,355.2 812.9,357.7 810.3,359.0 812.9,364.0 817.9,370.3 822.9,376.5 827.9,380.3 832.9,382.8 835.4,384.0 832.9,385.3 830.4,390.3 826.6,394.1 825.4,391.6 826.6,387.8 824.1,385.3 820.4,381.5 815.4,380.3 810.3,377.8 805.3,374.0 800.3,369.0 796.6,364.0 792.8,362.7 789.0,364.0 787.8,360.2" fill="#ae99c9"/>
<polygon points="794.0,380.3 797.8,379.0 799.7,382.8 799.1,389.1 795.3,389.7 793.4,385.3" fill="#ae99c9"/>
<polygon points="812.9,396.0 819.1,394.7 824.1,395.3 823.5,399.1 819.1,401.6 815.4,399.1" fill="#ae99c9"/>
<polygon points="800.3,347.7 805.3,345.2 811.6,342.7 811.6,338.9 816.6,337.6 822.9,337.6 827.9,338.9 826.6,342.7 824.1,346.4 819.1,347.7 815.4,347.7 810.3,347.7" fill="#ae99c9"/>
<polygon points="809.1,332.6 812.9,328.9 817.9,326.4 824.1,327.6 830.4,330.1 835.4,331.4 832.9,335.1 827.9,337.6 822.9,337.6 816.6,337.0 812.9,337.6" fill="#ae99c9"/>
<polygon points="835.4,331.4 844.2,332.6 850.5,332.0 849.2,336.4 844.2,338.9 837.9,340.2 831.7,340.2 827.9,338.9 832.9,335.1" fill="#ae99c9"/>
<polygon points="826.6,342.7 831.7,340.2 837.9,340.2 844.2,338.9 849.2,340.2 848.0,343.9 844.2,348.9 839.2,351.4 832.9,351.4 827.9,348.9" fill="#6a67ae"/>
<polygon points="816.0,350.2 820.4,350.2 825.4,348.9 824.1,353.9 819.1,355.2 816.6,354.6" fill="#6a67ae"/>
<polygon points="816.6,354.6 824.1,353.9 827.9,350.2 832.9,351.4 837.9,352.7 839.2,357.7 835.4,359.0 830.4,357.7 826.6,357.7 831.7,365.2 837.9,370.3 832.9,367.7 826.6,364.0 822.9,360.2 819.1,357.7" fill="#ae99c9"/>
<polygon points="826.6,357.7 835.4,359.0 839.2,357.7 840.4,364.0 837.9,369.0 832.9,366.5 829.2,362.7" fill="#ae99c9"/>
<polygon points="839.2,351.4 844.2,350.2 848.0,355.2 850.5,360.2 853.0,365.2 853.0,370.3 848.0,371.5 844.2,369.0 840.4,366.5 839.2,360.2" fill="#6a67ae"/>
<polygon points="837.9,369.0 840.4,367.1 842.9,370.3 840.4,372.8" fill="#ae99c9"/>
<polygon points="840.4,372.8 842.9,371.5 845.5,372.8 845.5,377.8 844.2,384.0 841.7,383.4 840.4,377.8" fill="#e9a0b0"/>
<polygon points="844.2,369.0 848.0,369.0 848.0,372.8 844.8,372.8" fill="#d0d1d1"/>
<polygon points="845.5,372.8 853.0,371.5 854.9,375.3 850.5,377.8 846.1,377.8" fill="#ae99c9"/>
<polygon points="845.5,377.8 850.5,377.8 855.5,376.5 863.0,377.8 869.3,376.5 870.5,379.0 863.0,381.5 856.7,382.8 858.0,386.6 861.8,391.6 860.5,396.6 856.7,399.1 853.0,396.6 850.5,391.6 848.0,387.8 846.7,384.0" fill="#ae99c9"/>
<polygon points="854.2,366.5 860.5,364.0 869.3,364.6 876.8,365.2 875.5,370.3 871.8,372.8 869.3,376.5 863.0,377.8 855.5,376.5 854.9,371.5" fill="#ae99c9"/>
<polygon points="846.7,351.4 850.5,348.9 854.2,343.9 860.5,341.4 869.3,341.4 875.5,343.9 879.3,350.2 878.1,357.7 875.5,362.7 869.3,364.6 860.5,364.0 854.2,366.5 850.5,360.2 848.0,355.2" fill="#ae99c9"/>
<polygon points="869.3,340.2 875.5,341.4 880.6,347.7 879.3,352.7 876.8,350.2" fill="#ae99c9"/>
<polygon points="850.5,332.0 855.5,327.6 854.2,320.1 863.0,321.3 875.5,320.1 883.1,318.8 885.6,320.1 881.8,327.6 881.8,341.4 888.1,348.9 895.6,356.5 901.6,360.2 901.6,365.2 888.1,362.7 880.6,357.7 879.3,350.2 875.5,343.9 869.3,341.4 860.5,341.4 854.2,343.9 850.5,340.2 849.2,336.4" fill="#ae99c9"/>
<polygon points="876.8,364.0 878.1,357.7 881.8,353.9 885.6,350.2 891.8,349.6 896.9,355.2 901.6,357.7 901.6,375.3 888.1,377.8 878.1,376.5 875.5,370.3" fill="#ffffff"/>
<polygon points="870.5,377.8 875.5,376.5 888.1,377.8 901.6,375.3 901.6,412.0 873.0,412.0 871.8,400.3 870.5,390.3 873.0,385.3 870.5,380.3" fill="#ae99c9"/>
<polygon points="718.8,366.5 725.1,365.2 732.6,365.2 741.4,365.2 750.2,366.5 755.2,367.7 760.2,370.3 765.2,371.5 770.2,371.5 770.2,375.3 763.9,379.0 760.2,381.5 756.4,385.3 753.9,390.3 752.7,395.3 747.6,397.8 741.4,400.3 735.1,402.9 731.3,404.1 725.1,402.9 722.6,400.3 725.1,395.3 726.3,390.3 725.1,385.3 726.3,377.8 726.3,374.0 721.3,374.0 718.8,370.3" fill="#ae99c9"/>
<polygon points="720.1,372.8 726.3,373.4 728.8,377.8 727.6,385.3 726.3,392.8 725.1,399.1 721.3,400.3 718.8,397.8 719.4,390.3 717.6,385.3 720.1,380.3" fill="#ae99c9"/>
<polygon points="731.3,412.0 741.4,407.9 756.4,402.9 769.0,401.0 781.5,400.3 794.0,400.3 800.3,400.3 804.1,402.9 805.3,412.0" fill="#e9b4c6"/>
<path d="M735.1,290.0 L741.4,290.0 L743.9,292.5 L748.9,293.8 L747.6,298.8 L745.1,301.3 L750.2,303.8 L753.9,308.8 L757.7,313.8 L761.4,316.3 L763.9,320.1 L762.7,322.6 L757.7,325.1 L752.7,326.4 L747.6,326.4 L742.6,328.9 L736.4,331.4 L735.1,330.1 L740.1,326.4 L741.4,322.6 L738.9,320.1 L740.1,315.1 L742.6,311.3 L740.1,307.6 L738.9,303.8 L736.4,301.3 L735.1,296.3 L735.1,290.0" fill="none" stroke="#fff" stroke-width="1.3" stroke-linejoin="round"/>
<path d="M718.8,320.1 L720.1,315.1 L722.6,310.1 L726.3,307.6 L728.8,305.7 L732.6,305.0 L733.9,308.8 L733.2,311.9 L732.6,316.3 L730.1,320.1 L725.1,321.3 L720.1,322.6 L718.8,320.1" fill="none" stroke="#fff" stroke-width="1.3" stroke-linejoin="round"/>
<path d="M790.3,297.5 L792.8,295.0 L797.8,293.1 L799.1,297.5 L796.6,301.3 L795.3,306.3 L791.5,305.0 L790.3,297.5" fill="none" stroke="#fff" stroke-width="1.3" stroke-linejoin="round"/>
<path d="M801.6,301.9 L805.3,300.7 L807.2,302.5 L805.3,305.0 L802.2,304.4 L801.6,301.9" fill="none" stroke="#fff" stroke-width="1.3" stroke-linejoin="round"/>
<path d="M840.4,296.3 L844.2,292.5 L850.5,292.5 L856.7,291.3 L863.0,291.9 L866.8,296.3 L864.3,300.0 L856.7,298.8 L849.2,298.8 L841.7,299.4 L840.4,296.3" fill="none" stroke="#fff" stroke-width="1.3" stroke-linejoin="round"/>
<path d="M841.7,300.0 L849.2,299.4 L856.7,299.4 L863.0,300.7 L860.5,306.3 L856.7,308.8 L850.5,308.8 L844.2,307.6 L837.9,306.3 L840.4,303.8 L841.7,300.0" fill="none" stroke="#fff" stroke-width="1.3" stroke-linejoin="round"/>
<path d="M856.7,308.8 L863.0,301.3 L869.3,300.0 L879.3,302.5 L885.6,312.6 L883.1,318.8 L875.5,320.1 L863.0,321.3 L854.2,320.1 L853.0,313.8 L856.7,308.8" fill="none" stroke="#fff" stroke-width="1.3" stroke-linejoin="round"/>
<path d="M815.4,311.3 L820.4,308.8 L830.4,307.6 L837.9,307.6 L844.2,308.8 L850.5,310.1 L853.0,313.8 L854.2,320.1 L855.5,327.6 L850.5,331.4 L844.2,332.6 L835.4,331.4 L830.4,330.1 L824.1,327.6 L817.9,326.4 L815.4,320.1 L815.4,311.3" fill="none" stroke="#fff" stroke-width="1.3" stroke-linejoin="round"/>
<path d="M785.3,313.8 L790.3,308.8 L795.3,306.3 L800.3,308.8 L806.6,308.8 L812.9,310.7 L815.4,313.8 L815.4,320.1 L817.9,326.4 L810.3,330.1 L809.1,333.9 L812.9,337.6 L810.3,341.4 L802.8,342.7 L795.3,343.9 L790.3,342.7 L789.7,337.6 L786.5,335.1 L782.8,332.6 L783.4,326.4 L785.3,322.6 L785.3,313.8" fill="none" stroke="#fff" stroke-width="1.3" stroke-linejoin="round"/>
<path d="M774.0,323.9 L776.5,317.6 L780.3,313.8 L785.3,313.8 L785.3,322.6 L782.8,325.1 L777.7,325.7 L774.0,323.9" fill="none" stroke="#fff" stroke-width="1.3" stroke-linejoin="round"/>
<path d="M768.3,326.4 L774.0,324.5 L777.7,325.7 L782.8,326.4 L783.4,331.4 L780.3,332.6 L775.2,330.1 L770.2,327.6 L768.3,326.4" fill="none" stroke="#fff" stroke-width="1.3" stroke-linejoin="round"/>
<path d="M740.1,338.9 L745.1,337.6 L748.9,335.1 L752.7,333.9 L757.7,332.6 L763.9,327.6 L768.3,326.4 L775.2,330.1 L780.3,332.6 L783.4,332.6 L786.5,335.1 L789.7,337.6 L790.3,342.7 L786.5,346.4 L784.0,348.9 L786.5,355.2 L787.8,360.2 L789.0,364.0 L786.5,366.5 L780.3,367.7 L775.2,369.0 L770.2,370.3 L765.2,370.3 L760.2,369.0 L753.9,366.5 L751.4,365.2 L752.7,357.7 L752.7,350.2 L750.2,345.2 L745.1,342.7 L740.1,338.9" fill="none" stroke="#fff" stroke-width="1.3" stroke-linejoin="round"/>
<path d="M795.3,370.3 L797.8,369.0 L798.4,374.0 L796.6,376.5 L795.0,374.0 L795.3,370.3" fill="none" stroke="#fff" stroke-width="1.3" stroke-linejoin="round"/>
<path d="M783.4,347.7 L787.8,345.2 L792.8,343.9 L797.8,345.2 L800.3,347.7 L797.8,350.2 L794.0,351.4 L790.3,352.7 L786.5,351.4 L783.4,347.7" fill="none" stroke="#fff" stroke-width="1.3" stroke-linejoin="round"/>
<path d="M786.5,355.2 L790.3,352.7 L794.0,351.4 L797.8,350.2 L800.3,347.7 L805.3,346.4 L810.3,345.2 L815.4,347.7 L816.6,351.4 L815.4,355.2 L812.9,357.7 L810.3,359.0 L812.9,364.0 L817.9,370.3 L822.9,376.5 L827.9,380.3 L832.9,382.8 L835.4,384.0 L832.9,385.3 L830.4,390.3 L826.6,394.1 L825.4,391.6 L826.6,387.8 L824.1,385.3 L820.4,381.5 L815.4,380.3 L810.3,377.8 L805.3,374.0 L800.3,369.0 L796.6,364.0 L792.8,362.7 L789.0,364.0 L787.8,360.2 L786.5,355.2" fill="none" stroke="#fff" stroke-width="1.3" stroke-linejoin="round"/>
<path d="M794.0,380.3 L797.8,379.0 L799.7,382.8 L799.1,389.1 L795.3,389.7 L793.4,385.3 L794.0,380.3" fill="none" stroke="#fff" stroke-width="1.3" stroke-linejoin="round"/>
<path d="M812.9,396.0 L819.1,394.7 L824.1,395.3 L823.5,399.1 L819.1,401.6 L815.4,399.1 L812.9,396.0" fill="none" stroke="#fff" stroke-width="1.3" stroke-linejoin="round"/>
<path d="M800.3,347.7 L805.3,345.2 L811.6,342.7 L811.6,338.9 L816.6,337.6 L822.9,337.6 L827.9,338.9 L826.6,342.7 L824.1,346.4 L819.1,347.7 L815.4,347.7 L810.3,347.7 L800.3,347.7" fill="none" stroke="#fff" stroke-width="1.3" stroke-linejoin="round"/>
<path d="M809.1,332.6 L812.9,328.9 L817.9,326.4 L824.1,327.6 L830.4,330.1 L835.4,331.4 L832.9,335.1 L827.9,337.6 L822.9,337.6 L816.6,337.0 L812.9,337.6 L809.1,332.6" fill="none" stroke="#fff" stroke-width="1.3" stroke-linejoin="round"/>
<path d="M835.4,331.4 L844.2,332.6 L850.5,332.0 L849.2,336.4 L844.2,338.9 L837.9,340.2 L831.7,340.2 L827.9,338.9 L832.9,335.1 L835.4,331.4" fill="none" stroke="#fff" stroke-width="1.3" stroke-linejoin="round"/>
<path d="M826.6,342.7 L831.7,340.2 L837.9,340.2 L844.2,338.9 L849.2,340.2 L848.0,343.9 L844.2,348.9 L839.2,351.4 L832.9,351.4 L827.9,348.9 L826.6,342.7" fill="none" stroke="#fff" stroke-width="1.3" stroke-linejoin="round"/>
<path d="M816.0,350.2 L820.4,350.2 L825.4,348.9 L824.1,353.9 L819.1,355.2 L816.6,354.6 L816.0,350.2" fill="none" stroke="#fff" stroke-width="1.3" stroke-linejoin="round"/>
<path d="M816.6,354.6 L824.1,353.9 L827.9,350.2 L832.9,351.4 L837.9,352.7 L839.2,357.7 L835.4,359.0 L830.4,357.7 L826.6,357.7 L831.7,365.2 L837.9,370.3 L832.9,367.7 L826.6,364.0 L822.9,360.2 L819.1,357.7 L816.6,354.6" fill="none" stroke="#fff" stroke-width="1.3" stroke-linejoin="round"/>
<path d="M826.6,357.7 L835.4,359.0 L839.2,357.7 L840.4,364.0 L837.9,369.0 L832.9,366.5 L829.2,362.7 L826.6,357.7" fill="none" stroke="#fff" stroke-width="1.3" stroke-linejoin="round"/>
<path d="M839.2,351.4 L844.2,350.2 L848.0,355.2 L850.5,360.2 L853.0,365.2 L853.0,370.3 L848.0,371.5 L844.2,369.0 L840.4,366.5 L839.2,360.2 L839.2,351.4" fill="none" stroke="#fff" stroke-width="1.3" stroke-linejoin="round"/>
<path d="M837.9,369.0 L840.4,367.1 L842.9,370.3 L840.4,372.8 L837.9,369.0" fill="none" stroke="#fff" stroke-width="1.3" stroke-linejoin="round"/>
<path d="M840.4,372.8 L842.9,371.5 L845.5,372.8 L845.5,377.8 L844.2,384.0 L841.7,383.4 L840.4,377.8 L840.4,372.8" fill="none" stroke="#fff" stroke-width="1.3" stroke-linejoin="round"/>
<path d="M844.2,369.0 L848.0,369.0 L848.0,372.8 L844.8,372.8 L844.2,369.0" fill="none" stroke="#fff" stroke-width="1.3" stroke-linejoin="round"/>
<path d="M845.5,372.8 L853.0,371.5 L854.9,375.3 L850.5,377.8 L846.1,377.8 L845.5,372.8" fill="none" stroke="#fff" stroke-width="1.3" stroke-linejoin="round"/>
<path d="M845.5,377.8 L850.5,377.8 L855.5,376.5 L863.0,377.8 L869.3,376.5 L870.5,379.0 L863.0,381.5 L856.7,382.8 L858.0,386.6 L861.8,391.6 L860.5,396.6 L856.7,399.1 L853.0,396.6 L850.5,391.6 L848.0,387.8 L846.7,384.0 L845.5,377.8" fill="none" stroke="#fff" stroke-width="1.3" stroke-linejoin="round"/>
<path d="M854.2,366.5 L860.5,364.0 L869.3,364.6 L876.8,365.2 L875.5,370.3 L871.8,372.8 L869.3,376.5 L863.0,377.8 L855.5,376.5 L854.9,371.5 L854.2,366.5" fill="none" stroke="#fff" stroke-width="1.3" stroke-linejoin="round"/>
<path d="M846.7,351.4 L850.5,348.9 L854.2,343.9 L860.5,341.4 L869.3,341.4 L875.5,343.9 L879.3,350.2 L878.1,357.7 L875.5,362.7 L869.3,364.6 L860.5,364.0 L854.2,366.5 L850.5,360.2 L848.0,355.2 L846.7,351.4" fill="none" stroke="#fff" stroke-width="1.3" stroke-linejoin="round"/>
<path d="M869.3,340.2 L875.5,341.4 L880.6,347.7 L879.3,352.7 L876.8,350.2 L869.3,340.2" fill="none" stroke="#fff" stroke-width="1.3" stroke-linejoin="round"/>
<path d="M850.5,332.0 L855.5,327.6 L854.2,320.1 L863.0,321.3 L875.5,320.1 L883.1,318.8 L885.6,320.1 L881.8,327.6 L881.8,341.4 L888.1,348.9 L895.6,356.5 L901.6,360.2 M901.6,365.2 L888.1,362.7 L880.6,357.7 L879.3,350.2 L875.5,343.9 L869.3,341.4 L860.5,341.4 L854.2,343.9 L850.5,340.2 L849.2,336.4 L850.5,332.0" fill="none" stroke="#fff" stroke-width="1.3" stroke-linejoin="round"/>
<path d="M718.8,366.5 L725.1,365.2 L732.6,365.2 L741.4,365.2 L750.2,366.5 L755.2,367.7 L760.2,370.3 L765.2,371.5 L770.2,371.5 L770.2,375.3 L763.9,379.0 L760.2,381.5 L756.4,385.3 L753.9,390.3 L752.7,395.3 L747.6,397.8 L741.4,400.3 L735.1,402.9 L731.3,404.1 L725.1,402.9 L722.6,400.3 L725.1,395.3 L726.3,390.3 L725.1,385.3 L726.3,377.8 L726.3,374.0 L721.3,374.0 L718.8,370.3 L718.8,366.5" fill="none" stroke="#fff" stroke-width="1.3" stroke-linejoin="round"/>
<path d="M720.1,372.8 L726.3,373.4 L728.8,377.8 L727.6,385.3 L726.3,392.8 L725.1,399.1 L721.3,400.3 L718.8,397.8 L719.4,390.3 L717.6,385.3 L720.1,380.3 L720.1,372.8" fill="none" stroke="#fff" stroke-width="1.3" stroke-linejoin="round"/>
<polyline points="728.8,305.7 728.8,310.1 733.2,310.7" fill="none" stroke="#fff" stroke-width="1.3" stroke-linejoin="round"/>
<polygon points="811.7,689.3 941.4,689.3 931.7,695.5 923.4,701.0 917.9,706.6 916.6,713.4 917.9,721.7 917.9,728.6 912.4,734.1 906.9,738.3 904.1,742.4 901.4,754.8 849.0,753.4 832.4,753.4 828.3,747.9 825.5,738.3 824.1,728.6 821.4,717.6 817.2,706.6 813.1,696.9" fill="#e9b4c6"/>
<polygon points="832.4,753.4 835.2,754.8 839.3,756.2 844.8,754.8 849.0,752.1 849.0,736.9 851.7,739.7 854.5,745.2 860.0,741.0 865.5,738.3 871.0,738.3 876.6,735.5 882.1,727.2 887.6,723.1 894.5,721.0 900.0,721.0 901.4,728.6 902.8,738.3 904.1,742.4 905.5,747.9 901.4,754.8 897.2,761.7 890.3,768.6 884.8,774.1 876.6,778.3 865.5,782.4 857.2,785.2 844.8,789.0 839.3,785.2 837.9,775.5 835.2,767.2 832.4,759.0" fill="#ae99c9"/>
<polygon points="878.6,760.3 883.4,756.2 888.3,758.3 886.2,764.5 882.1,765.9" fill="#e9b4c6"/>
<polygon points="897.2,741.0 901.4,741.0 902.1,746.6 898.6,747.2" fill="#e9b4c6"/>
<polygon points="959.3,688.2 986.6,688.2 982.8,698.3 978.6,710.7 974.5,721.7 970.3,734.1 963.4,738.3 957.9,734.1 955.2,723.1 956.6,713.4 959.3,705.2" fill="#e9b4c6"/>
<path d="M832.4,753.4 L835.2,754.8 L839.3,756.2 L844.8,754.8 L849.0,752.1 L849.0,736.9 L851.7,739.7 L854.5,745.2 L860.0,741.0 L865.5,738.3 L871.0,738.3 L876.6,735.5 L882.1,727.2 L887.6,723.1 L894.5,721.0 L900.0,721.0 L901.4,728.6 L902.8,738.3 L904.1,742.4 L905.5,747.9 L901.4,754.8 L897.2,761.7 L890.3,768.6 L884.8,774.1 L876.6,778.3 L865.5,782.4 L857.2,785.2 L844.8,789.0 L839.3,785.2 L837.9,775.5 L835.2,767.2 L832.4,759.0 L832.4,753.4" fill="none" stroke="#fff" stroke-width="1.3" stroke-linejoin="round"/>
<path d="M878.6,760.3 L883.4,756.2 L888.3,758.3 L886.2,764.5 L882.1,765.9 L878.6,760.3" fill="none" stroke="#fff" stroke-width="1.3" stroke-linejoin="round"/>
<path d="M897.2,741.0 L901.4,741.0 L902.1,746.6 L898.6,747.2 L897.2,741.0" fill="none" stroke="#fff" stroke-width="1.3" stroke-linejoin="round"/>
<polyline points="851.7,696.9 851.7,717.6 849.0,719.0 849.0,736.9" fill="none" stroke="#fff" stroke-width="1.3" stroke-linejoin="round"/>
<polyline points="873.8,696.9 882.1,710.7 889.0,719.0 894.5,721.0" fill="none" stroke="#fff" stroke-width="1.3" stroke-linejoin="round"/>
<polyline points="905.5,689.3 906.9,703.8 901.4,717.6 900.0,721.0" fill="none" stroke="#fff" stroke-width="1.3" stroke-linejoin="round"/>
<polyline points="811.7,692.8 851.7,696.9 862.8,695.5 876.6,696.9 883.4,694.1" fill="none" stroke="#fff" stroke-width="1.3" stroke-linejoin="round"/>
<polygon points="859.2,426.4 870.2,429.8 876.9,431.5 885.4,430.7 893.9,432.4 902.4,431.5 910.8,432.4 912.5,415.4 914.2,406.9 917.6,402.7 927.8,401.9 941.4,400.2 949.8,396.8 949.8,389.2 1061.7,389.2 1061.7,464.6 1043.1,464.6 1029.5,479.8 1022.7,495.1 1012.5,506.9 1000.7,512.0 988.8,518.8 975.3,525.6 961.7,532.4 958.3,539.2 970.2,539.2 978.6,537.5 993.9,535.8 992.2,545.9 990.5,561.2 859.2,561.2" fill="#e9b4c6"/>
<polygon points="910.8,447.6 915.9,457.8 919.3,471.4 924.4,479.8 927.8,488.3 929.5,501.9 927.8,505.3 934.6,506.9 944.7,518.8 951.5,529.0 954.9,534.1 957.5,532.4 956.6,522.2 954.9,512.0 951.5,505.3 944.7,498.5 939.7,488.3 934.6,478.1 927.8,469.7 919.3,461.2 912.5,451.0" fill="#ffffff"/>
<polygon points="971.9,437.5 978.6,442.5 988.8,449.3 999.0,454.4 1009.2,457.8 1012.5,459.5 1009.2,464.6 1007.5,468.0 1000.7,471.4 993.9,471.4 992.2,469.7 988.8,464.6 985.4,461.2 982.0,457.8 975.3,451.0 970.2,444.2" fill="#ffffff"/>
<polygon points="968.5,387.8 978.6,387.8 990.5,387.8 988.8,396.8 982.0,400.2 973.6,396.8" fill="#ffffff"/>
<polygon points="871.9,387.8 948.1,387.8 949.8,396.8 941.4,400.2 927.8,401.9 917.6,402.7 910.8,403.6 902.4,401.9 893.9,402.7 885.4,403.6 876.9,401.9 873.6,396.8" fill="#ae99c9"/>
<polygon points="899.0,411.2 904.1,409.5 909.2,410.3 905.8,412.9 900.7,412.9" fill="#ae99c9"/>
<polygon points="861.7,408.6 866.8,408.3 872.7,410.0 870.2,411.4 863.4,410.7" fill="#ae99c9"/>
<polygon points="870.2,482.4 924.4,480.7 927.8,488.3 929.5,501.9 927.8,512.0 924.4,518.8 921.0,530.7 915.9,542.5 910.8,537.5 893.9,539.2 876.9,545.9 870.2,552.7 863.4,545.9 863.4,534.1 863.4,508.6 866.8,491.7" fill="#fde5d6"/>
<polygon points="857.8,491.7 866.8,491.7 863.4,508.6 863.4,562.5 857.8,562.5" fill="#fde5d6"/>
<polygon points="927.8,505.3 934.6,506.9 944.7,518.8 951.5,529.0 954.9,534.1 948.1,530.7 938.0,522.2 931.2,518.8 927.8,512.0" fill="#fde5d6"/>
<polygon points="915.9,542.5 921.0,530.7 924.4,518.8 931.2,518.8 938.0,522.2 948.1,530.7 954.9,534.1 954.9,539.2 960.0,545.9 968.5,552.7 975.3,562.5 915.9,562.5" fill="#fde5d6"/>
<polygon points="914.2,442.5 922.7,430.7 931.2,427.3 941.4,430.7 951.5,435.8 958.3,440.8 968.5,444.2 975.3,451.0 982.0,457.8 985.4,461.2 988.8,464.6 992.2,469.7 995.6,476.4 1009.2,478.1 1010.8,488.3 1005.8,493.4 995.6,498.5 985.4,501.9 978.6,505.3 961.7,506.9 956.6,508.6 951.5,505.3 944.7,498.5 939.7,488.3 934.6,478.1 927.8,469.7 919.3,461.2 912.5,451.0" fill="#fde5d6"/>
<polygon points="954.9,508.6 961.7,506.9 978.6,505.3 987.1,501.9 995.6,500.2 1000.7,510.3 988.8,515.4 975.3,522.2 961.7,529.0 956.6,530.7 954.9,522.2" fill="#fde5d6"/>
<polygon points="912.5,415.4 915.1,415.4 914.2,427.3 913.4,435.8 911.7,434.1 911.7,423.9" fill="#6a67ae"/>
<polygon points="984.6,457.8 987.1,457.8 987.5,462.0 985.1,462.0" fill="#e9b4c6"/>
<polygon points="1038.0,387.8 1063.1,387.8 1063.1,395.1 1046.4,398.5 1039.7,400.2" fill="#fde5d6"/>
<path d="M948.1,387.8 L949.8,396.8 L941.4,400.2 L927.8,401.9 L917.6,402.7 L910.8,403.6 L902.4,401.9 L893.9,402.7 L885.4,403.6 L876.9,401.9 L873.6,396.8 L871.9,387.8" fill="none" stroke="#fff" stroke-width="1.3" stroke-linejoin="round"/>
<path d="M899.0,411.2 L904.1,409.5 L909.2,410.3 L905.8,412.9 L900.7,412.9 L899.0,411.2" fill="none" stroke="#fff" stroke-width="1.3" stroke-linejoin="round"/>
<path d="M861.7,408.6 L866.8,408.3 L872.7,410.0 L870.2,411.4 L863.4,410.7 L861.7,408.6" fill="none" stroke="#fff" stroke-width="1.3" stroke-linejoin="round"/>
<path d="M870.2,482.4 L924.4,480.7 L927.8,488.3 L929.5,501.9 L927.8,512.0 L924.4,518.8 L921.0,530.7 L915.9,542.5 L910.8,537.5 L893.9,539.2 L876.9,545.9 L870.2,552.7 L863.4,545.9 L863.4,534.1 L863.4,508.6 L866.8,491.7 L870.2,482.4" fill="none" stroke="#fff" stroke-width="1.3" stroke-linejoin="round"/>
<path d="M927.8,505.3 L934.6,506.9 L944.7,518.8 L951.5,529.0 L954.9,534.1 L948.1,530.7 L938.0,522.2 L931.2,518.8 L927.8,512.0 L927.8,505.3" fill="none" stroke="#fff" stroke-width="1.3" stroke-linejoin="round"/>
<path d="M915.9,542.5 L921.0,530.7 L924.4,518.8 L931.2,518.8 L938.0,522.2 L948.1,530.7 L954.9,534.1 L954.9,539.2 L960.0,545.9 L968.5,552.7 L975.3,562.5 M915.9,562.5 L915.9,542.5" fill="none" stroke="#fff" stroke-width="1.3" stroke-linejoin="round"/>
<path d="M914.2,442.5 L922.7,430.7 L931.2,427.3 L941.4,430.7 L951.5,435.8 L958.3,440.8 L968.5,444.2 L975.3,451.0 L982.0,457.8 L985.4,461.2 L988.8,464.6 L992.2,469.7 L995.6,476.4 L1009.2,478.1 L1010.8,488.3 L1005.8,493.4 L995.6,498.5 L985.4,501.9 L978.6,505.3 L961.7,506.9 L956.6,508.6 L951.5,505.3 L944.7,498.5 L939.7,488.3 L934.6,478.1 L927.8,469.7 L919.3,461.2 L912.5,451.0 L914.2,442.5" fill="none" stroke="#fff" stroke-width="1.3" stroke-linejoin="round"/>
<path d="M954.9,508.6 L961.7,506.9 L978.6,505.3 L987.1,501.9 L995.6,500.2 L1000.7,510.3 L988.8,515.4 L975.3,522.2 L961.7,529.0 L956.6,530.7 L954.9,522.2 L954.9,508.6" fill="none" stroke="#fff" stroke-width="1.3" stroke-linejoin="round"/>
<path d="M912.5,415.4 L915.1,415.4 L914.2,427.3 L913.4,435.8 L911.7,434.1 L911.7,423.9 L912.5,415.4" fill="none" stroke="#fff" stroke-width="1.3" stroke-linejoin="round"/>
<path d="M984.6,457.8 L987.1,457.8 L987.5,462.0 L985.1,462.0 L984.6,457.8" fill="none" stroke="#fff" stroke-width="1.3" stroke-linejoin="round"/>
<polyline points="870.2,481.5 924.4,480.7" fill="none" stroke="#fff" stroke-width="1.3" stroke-linejoin="round"/>
<polyline points="870.2,430.7 870.2,491.7" fill="none" stroke="#fff" stroke-width="1.3" stroke-linejoin="round"/>
<polyline points="949.8,396.8 954.9,403.6 958.3,417.1 965.1,427.3 970.2,434.1" fill="none" stroke="#fff" stroke-width="1.3" stroke-linejoin="round"/>
<polyline points="941.4,400.2 941.4,410.3 936.3,415.4 931.2,420.5" fill="none" stroke="#fff" stroke-width="1.3" stroke-linejoin="round"/>
<polyline points="931.2,427.3 941.4,430.7 951.5,435.8 958.3,440.8 968.5,440.8" fill="none" stroke="#fff" stroke-width="1.3" stroke-linejoin="round"/>
<polyline points="1022.7,403.6 1026.1,412.0 1027.8,423.9 1029.5,434.1 1031.2,440.8 1038.0,447.6 1039.7,454.4 1036.3,461.2" fill="none" stroke="#fff" stroke-width="1.3" stroke-linejoin="round"/>
<polyline points="1029.5,440.8 1046.4,440.8 1054.9,432.4 1061.7,429.0" fill="none" stroke="#fff" stroke-width="1.3" stroke-linejoin="round"/>
<polyline points="992.2,396.8 999.0,395.1 1012.5,398.5 1022.7,403.6" fill="none" stroke="#fff" stroke-width="1.3" stroke-linejoin="round"/>
<polyline points="1038.0,389.2 1039.7,400.2 1046.4,398.5" fill="none" stroke="#fff" stroke-width="1.3" stroke-linejoin="round"/>
<polyline points="915.9,423.9 927.8,422.2" fill="none" stroke="#fff" stroke-width="1.3" stroke-linejoin="round"/>
<polyline points="912.5,415.4 915.9,406.9 917.6,402.7" fill="none" stroke="#fff" stroke-width="1.3" stroke-linejoin="round"/>
<polyline points="1004.1,495.1 1010.8,488.3 1009.2,478.1 1007.5,471.4 1012.5,466.3" fill="none" stroke="#fff" stroke-width="1.3" stroke-linejoin="round"/>
<polygon points="859.2,539.2 992.2,539.2 990.5,548.5 987.1,560.3 982.0,570.5 975.3,580.7 965.1,590.8 956.6,599.3 949.8,607.8 943.1,618.0 939.7,628.1 940.5,638.3 941.4,645.1 943.1,651.9 944.7,658.6 943.9,668.8 944.7,679.0 941.4,687.5 936.3,692.5 927.8,697.6 921.0,702.7 917.6,711.2 859.2,711.2" fill="#e9b4c6"/>
<polygon points="857.8,537.8 870.2,537.8 873.6,546.8 876.9,556.9 882.0,565.4 887.1,573.9 876.9,575.6 857.8,577.3" fill="#fde5d6"/>
<polygon points="873.6,546.8 885.4,546.8 902.4,546.8 909.2,541.7 914.2,550.2 915.9,556.9 921.0,568.8 922.7,573.9 915.9,579.0 904.1,580.7 897.3,575.6 887.1,575.6 882.0,565.4 876.9,556.9" fill="#e9b4c6"/>
<polygon points="910.8,537.8 954.9,537.8 958.3,543.4 965.1,550.2 978.6,556.9 976.9,562.0 971.9,568.8 965.1,573.9 954.9,577.3 948.1,580.7 939.7,580.7 931.2,579.0 922.7,573.9 921.0,565.4 915.9,556.9 914.2,550.2 912.5,543.4" fill="#fde5d6"/>
<polygon points="906.6,602.7 910.8,600.2 915.9,601.9 915.9,607.8 912.5,612.9 907.5,613.7 905.8,607.8" fill="#ffffff"/>
<polygon points="914.2,650.2 917.6,658.6 920.2,668.8 921.0,679.0 919.3,689.2 917.6,685.8 915.9,675.6 915.1,665.4 913.4,656.9" fill="#ffffff"/>
<polygon points="961.7,689.2 968.5,682.4 978.6,675.6 985.4,667.1 987.1,673.9 988.8,684.1 985.4,695.9 982.0,706.1 978.6,712.5 961.7,712.5 960.0,701.0" fill="#e9b4c6"/>
<polygon points="971.9,650.2 973.9,650.2 973.9,652.2 971.9,652.2" fill="#d0d1d1"/>
<polygon points="965.3,668.5 967.6,668.5 967.6,670.8 965.3,670.8" fill="#d0d1d1"/>
<polygon points="956.9,662.7 959.2,662.7 959.2,664.9 956.9,664.9" fill="#fde5d6"/>
<path d="M873.6,546.8 L885.4,546.8 L902.4,546.8 L909.2,541.7 L914.2,550.2 L915.9,556.9 L921.0,568.8 L922.7,573.9 L915.9,579.0 L904.1,580.7 L897.3,575.6 L887.1,575.6 L882.0,565.4 L876.9,556.9 L873.6,546.8" fill="none" stroke="#fff" stroke-width="1.3" stroke-linejoin="round"/>
<path d="M954.9,537.8 L958.3,543.4 L965.1,550.2 L978.6,556.9 L976.9,562.0 L971.9,568.8 L965.1,573.9 L954.9,577.3 L948.1,580.7 L939.7,580.7 L931.2,579.0 L922.7,573.9 L921.0,565.4 L915.9,556.9 L914.2,550.2 L912.5,543.4 L910.8,537.8" fill="none" stroke="#fff" stroke-width="1.3" stroke-linejoin="round"/>
<polyline points="949.0,580.7 948.1,607.8" fill="none" stroke="#fff" stroke-width="1.3" stroke-linejoin="round"/>
<polyline points="917.6,607.8 939.7,624.7" fill="none" stroke="#fff" stroke-width="1.3" stroke-linejoin="round"/>
<polyline points="919.3,579.0 919.3,590.8 915.9,601.0" fill="none" stroke="#fff" stroke-width="1.3" stroke-linejoin="round"/>
<polyline points="900.7,580.7 900.7,590.8 895.6,607.8 893.9,616.3 895.6,633.2 899.0,645.1 890.5,646.8 888.8,658.6 893.9,668.8" fill="none" stroke="#fff" stroke-width="1.3" stroke-linejoin="round"/>
<polyline points="899.0,645.1 912.5,650.2 914.2,658.6 910.8,675.6" fill="none" stroke="#fff" stroke-width="1.3" stroke-linejoin="round"/>
<polyline points="919.3,662.0 932.9,662.0 943.1,657.8" fill="none" stroke="#fff" stroke-width="1.3" stroke-linejoin="round"/>
<polyline points="897.3,680.7 910.8,675.6" fill="none" stroke="#fff" stroke-width="1.3" stroke-linejoin="round"/>
<polyline points="859.2,660.3 868.5,660.3 868.5,670.5 859.2,670.5" fill="none" stroke="#fff" stroke-width="1.3" stroke-linejoin="round"/>
<polyline points="859.2,689.2 876.9,692.5 893.9,685.8 900.7,679.0" fill="none" stroke="#fff" stroke-width="1.3" stroke-linejoin="round"/>
<polyline points="897.3,685.8 904.1,692.5 907.5,711.2" fill="none" stroke="#fff" stroke-width="1.3" stroke-linejoin="round"/>
<polygon points="879.1,236.4 889.4,237.9 898.8,241.1 904.4,244.9 903.5,249.6 898.8,251.5 891.3,252.4 885.6,251.5 883.8,253.3 887.5,257.1 893.2,259.9 900.7,258.1 904.4,255.2 908.2,251.5 913.9,249.6 917.6,243.0 915.7,240.2 919.5,242.1 923.3,244.9 928.9,245.8 936.4,242.1 943.9,240.2 949.6,239.2 955.2,240.2 964.6,238.3 970.3,236.4 977.8,235.5 985.3,238.3 992.8,240.2 1000.4,241.1 996.6,236.4 991.0,230.8 989.1,225.1 994.7,220.4 1004.1,221.4 1009.8,225.1 1011.7,228.9 1015.4,236.4 1019.2,242.1 1019.2,249.6 1022.9,243.9 1021.1,236.4 1017.3,230.8 1013.5,225.1 1015.4,221.4 1022.9,225.1 1030.5,223.3 1032.3,217.6 1039.9,215.7 1047.4,213.9 1049.3,210.1 1058.7,208.2 1068.1,207.3 1079.4,206.3 1086.9,204.4 1092.5,201.6 1105.7,202.2 1117.0,204.4 1130.1,206.3 1135.8,209.2 1128.3,212.9 1124.5,213.9 1135.8,215.7 1147.1,217.6 1162.1,218.6 1173.4,218.6 1180.9,217.6 1180.9,321.1 879.1,321.1" fill="#ae99c9"/>
<polygon points="936.4,225.1 940.2,217.6 947.7,212.0 959.0,208.2 970.3,205.4 981.6,203.5 983.4,205.4 974.0,208.2 962.8,210.1 953.3,213.9 947.7,219.5 949.6,225.1 957.1,229.8 947.7,229.8 940.2,228.0" fill="#ae99c9"/>
<polygon points="898.8,188.5 908.2,187.5 917.6,188.5 908.2,190.3" fill="#ae99c9"/>
<polygon points="1045.5,188.5 1053.0,187.5 1064.3,189.4 1075.6,193.2 1071.8,195.0 1060.6,194.1 1049.3,191.3" fill="#ae99c9"/>
<polygon points="1079.4,195.0 1086.9,195.0 1096.3,196.9 1086.9,198.8 1081.2,198.8" fill="#ae99c9"/>
<polygon points="879.4,289.4 1080.6,289.4 1080.6,401.0 879.4,401.0" fill="#ae99c9"/>
<polygon points="878.4,348.9 885.0,350.2 892.5,352.7 898.8,359.0 905.1,356.5 911.3,350.2 917.6,348.9 921.4,355.2 927.6,365.2 932.7,367.7 935.2,375.3 930.2,377.8 917.6,376.5 905.1,375.3 892.5,376.5 886.3,377.8 878.4,380.3" fill="#ffffff"/>
<polygon points="903.8,351.4 910.1,347.7 916.4,347.7 915.1,353.9 910.1,356.5 905.1,355.2" fill="#ffffff"/>
<polygon points="949.0,331.4 952.7,327.6 960.3,323.9 967.8,322.6 975.3,324.5 984.1,326.4 992.9,326.4 1000.4,325.1 1006.6,326.4 1004.1,321.3 1000.4,317.6 1000.4,312.6 1005.4,310.1 1017.9,307.6 1030.5,303.8 1038.0,305.0 1043.0,310.1 1053.0,311.3 1061.8,308.8 1064.3,311.3 1074.4,318.8 1081.6,321.3 1081.6,366.5 1073.1,367.7 1064.3,370.3 1058.1,375.3 1049.3,376.5 1043.0,375.3 1038.0,370.3 1033.0,365.2 1028.0,364.0 1020.4,362.7 1012.9,360.2 1005.4,356.5 992.9,355.2 990.3,360.2 987.8,371.5 984.1,372.8 979.1,370.3 977.8,360.2 979.1,350.2 972.8,347.7 965.3,348.9 960.3,350.2 957.7,345.2 952.7,342.7 950.2,337.6" fill="#e9b4c6"/>
<polygon points="992.9,355.2 1005.4,356.5 1012.9,360.2 1020.4,362.7 1028.0,364.0 1033.0,365.2 1038.0,370.3 1043.0,375.3 1046.8,380.3 1053.0,385.3 1058.1,390.3 1055.5,394.1 1049.3,392.8 1043.0,390.3 1036.7,387.8 1030.5,385.3 1021.7,380.3 1017.9,376.5 1012.9,375.3 1007.9,371.5 1000.4,374.0 995.4,377.8 991.6,372.8 990.3,365.2" fill="#fde5d6"/>
<polygon points="984.1,374.0 987.8,371.5 991.6,372.8 995.4,377.8 1000.4,374.0 1007.9,371.5 1012.9,375.3 1017.9,376.5 1021.7,380.3 1030.5,385.3 1036.7,387.8 1043.0,390.3 1044.3,402.0 984.1,402.0 985.3,390.3 985.3,382.8" fill="#e9b4c6"/>
<polygon points="1058.1,375.3 1064.3,370.3 1073.1,367.7 1081.6,366.5 1081.6,382.8 1068.1,382.8 1061.8,380.3" fill="#e9b4c6"/>
<polygon points="1053.0,385.3 1058.1,380.3 1068.1,382.8 1071.8,387.8 1065.6,390.3 1058.1,390.3" fill="#fde5d6"/>
<polygon points="955.2,357.7 960.3,350.2 967.8,348.3 975.3,348.9 979.1,350.2 977.8,360.2 979.1,370.3 984.1,372.8 985.3,382.8 985.3,390.3 986.6,402.0 970.3,402.0 967.8,390.3 964.0,385.3 962.8,380.3 960.3,375.3 957.7,367.7" fill="#ffffff"/>
<polygon points="932.7,367.7 940.2,370.3 947.7,371.5 952.7,374.0 957.7,376.5 950.2,377.8 942.7,376.5 935.2,375.3" fill="#e9b4c6"/>
<polygon points="947.7,377.8 957.7,376.5 965.3,377.8 970.3,380.3 972.8,385.3 967.8,389.1 960.3,387.8 955.2,389.1 950.2,386.6" fill="#e9b4c6"/>
<polygon points="950.2,390.3 960.3,389.1 967.8,390.3 970.3,402.0 950.2,402.0" fill="#e9b4c6"/>
<polyline points="880.0,305.0 885.0,312.6 883.8,320.1 892.5,320.1 898.8,325.1 907.6,328.9 917.6,331.4 922.6,335.1 921.4,342.7 916.4,345.2 912.6,347.7" fill="none" stroke="#fff" stroke-width="1.3" stroke-linejoin="round"/>
<polyline points="949.0,331.4 952.7,327.6 960.3,323.9 967.8,322.6 975.3,324.5 984.1,326.4 992.9,326.4 1000.4,325.1 1006.6,326.4 1004.1,321.3 1000.4,317.6 1000.4,312.6 1005.4,310.1 1017.9,307.6 1030.5,303.8 1038.0,305.0 1043.0,310.1 1053.0,311.3 1061.8,308.8 1064.3,311.3 1074.4,318.8 1080.6,321.3" fill="none" stroke="#fff" stroke-width="1.3" stroke-linejoin="round"/>
<polyline points="932.7,367.7 940.2,370.3 947.7,371.5 952.7,374.0 957.7,376.5" fill="none" stroke="#fff" stroke-width="1.3" stroke-linejoin="round"/>
<polygon points="950.0,329.4 1099.2,329.4 1103.0,332.5 1111.8,335.0 1103.0,341.3 1100.5,346.3 1101.8,353.8 1095.5,358.8 1098.0,368.9 1096.7,373.9 1095.5,370.1 1084.2,368.9 1072.9,367.6 1064.1,368.9 1057.9,372.6 1050.3,380.2 1044.1,377.6 1037.8,370.1 1032.8,365.1 1025.3,365.1 1015.2,362.6 1007.7,358.8 1000.2,355.1 992.7,357.6 995.2,376.4 987.6,375.1 982.6,373.9 977.6,371.4 972.6,367.6 971.3,360.1 973.9,357.6 978.9,353.8 976.4,349.4 967.6,348.8 961.3,351.3 958.8,346.3 952.5,341.3 950.0,336.3" fill="#e9b4c6"/>
<polygon points="938.4,328.4 950.0,328.4 950.0,336.3 952.5,341.3 958.8,346.3 961.3,351.3 955.0,358.8 957.6,366.4 960.1,371.4 952.5,371.4 945.0,368.9 938.4,367.6" fill="#ae99c9"/>
<polygon points="938.4,367.6 945.0,368.9 952.5,371.4 960.1,372.6 965.1,377.6 967.6,383.9 970.1,390.2 965.1,388.9 958.8,387.7 952.5,388.9 947.5,387.7 938.4,386.4" fill="#e9b4c6"/>
<polygon points="938.4,377.6 947.5,387.7 948.8,399.0 938.4,400.2" fill="#ae99c9"/>
<polygon points="955.0,358.8 961.3,351.3 967.6,348.8 976.4,349.4 978.9,353.8 973.9,357.6 971.3,360.1 972.6,367.6 977.6,371.4 982.6,375.1 987.6,377.6 990.2,386.4 991.4,395.2 990.2,400.2 983.9,401.5 977.6,400.2 971.3,396.5 970.1,390.2 967.6,383.9 965.1,377.6 960.1,371.4 957.6,366.4" fill="#ffffff"/>
<polygon points="948.8,387.7 958.8,387.7 965.1,388.9 970.1,390.2 971.3,396.5 977.6,400.2 983.9,401.5 990.2,400.2 993.9,397.7 1000.2,395.2 1009.0,397.7 1017.7,400.2 1024.0,405.2 1026.5,410.3 1025.3,417.8 1027.8,427.8 1032.8,436.6 1030.3,440.3 1035.3,452.0 970.1,452.0 968.8,439.1 963.8,427.8 958.8,417.8 956.3,407.7 952.5,400.2" fill="#e9b4c6"/>
<polygon points="992.7,357.6 1000.2,355.1 1007.7,358.8 1015.2,362.6 1025.3,365.1 1032.8,365.1 1037.8,370.1 1044.1,377.6 1050.3,380.2 1056.6,377.6 1060.4,373.9 1064.1,371.4 1069.2,372.6 1070.4,377.6 1066.6,380.2 1062.9,382.7 1060.4,385.2 1055.4,387.7 1051.6,395.2 1047.8,397.7 1042.8,396.5 1037.8,395.2 1032.8,392.7 1027.8,387.7 1020.3,382.7 1015.2,377.6 1010.2,373.9 1003.9,372.6 998.9,375.1 995.2,376.4" fill="#fde5d6"/>
<polygon points="982.6,373.9 987.6,375.1 995.2,376.4 998.9,375.1 1003.9,372.6 1010.2,373.9 1015.2,377.6 1020.3,382.7 1027.8,387.7 1032.8,392.7 1037.8,395.2 1042.8,396.5 1040.3,400.2 1035.3,402.7 1027.8,407.7 1024.0,405.2 1017.7,400.2 1009.0,397.7 1000.2,395.2 993.9,397.7 990.2,400.2" fill="#e9b4c6"/>
<polygon points="1057.9,372.6 1064.1,368.9 1072.9,367.6 1084.2,368.9 1095.5,370.1 1096.7,373.9 1090.5,376.4 1084.2,380.2 1077.9,382.7 1071.7,383.9 1065.4,382.7 1062.9,380.2 1069.2,377.6 1069.2,372.6" fill="#e9b4c6"/>
<polygon points="1050.3,387.7 1055.4,387.7 1060.4,385.2 1062.9,382.7 1071.7,383.9 1077.9,382.7 1079.2,388.9 1077.9,395.2 1071.7,396.5 1065.4,395.2 1060.4,397.7 1052.9,399.0 1047.8,397.7 1051.6,395.2" fill="#fde5d6"/>
<polygon points="1025.3,410.3 1027.8,407.7 1035.3,402.7 1040.3,400.2 1047.8,397.7 1052.9,399.0 1060.4,397.7 1065.4,395.2 1069.2,397.7 1071.7,405.2 1067.9,412.8 1065.4,420.3 1060.4,425.3 1052.9,430.3 1047.8,436.6 1040.3,439.1 1032.8,436.6 1027.8,427.8 1025.3,417.8" fill="#e9b4c6"/>
<polygon points="1032.8,440.3 1040.3,439.1 1047.8,436.6 1052.9,430.3 1060.4,425.3 1065.4,420.3 1067.9,412.8 1071.7,405.2 1075.4,400.2 1080.4,402.7 1085.5,407.7 1086.7,412.8 1084.2,417.8 1084.2,425.3 1081.7,432.8 1077.9,440.3 1075.4,452.0 1035.3,452.0" fill="#e9b4c6"/>
<polygon points="1069.2,397.7 1077.9,395.2 1084.2,397.7 1090.5,400.2 1098.0,405.2 1100.5,410.3 1095.5,411.5 1090.5,412.8 1086.7,412.8 1085.5,407.7 1080.4,402.7 1075.4,400.2" fill="#fde5d6"/>
<polygon points="1080.4,412.8 1086.7,412.8 1095.5,411.5 1101.8,410.3 1105.5,417.8 1108.0,425.3 1115.5,431.6 1120.6,437.8 1125.6,442.9 1130.6,446.6 1141.6,452.0 1075.4,452.0 1077.9,440.3 1081.7,432.8 1084.2,425.3 1084.2,417.8" fill="#fde5d6"/>
<polygon points="1118.1,436.6 1123.1,435.3 1130.6,439.1 1141.6,442.9 1141.6,452.0 1128.1,446.6 1121.8,441.6" fill="#e9b4c6"/>
<polygon points="1099.2,328.4 1141.6,328.4 1141.6,442.9 1130.6,439.1 1123.1,435.3 1118.1,436.6 1108.0,425.3 1105.5,417.8 1101.8,410.3 1098.0,405.2 1090.5,400.2 1084.2,397.7 1077.9,395.2 1079.2,388.9 1077.9,382.7 1084.2,380.2 1090.5,376.4 1096.7,373.9 1098.0,368.9 1095.5,358.8 1101.8,353.8 1100.5,346.3 1103.0,341.3 1111.8,335.0 1103.0,332.5" fill="#ae99c9"/>
<path d="M948.8,387.7 L958.8,387.7 L965.1,388.9 L970.1,390.2 L971.3,396.5 L977.6,400.2 L983.9,401.5 L990.2,400.2 L993.9,397.7 L1000.2,395.2 L1009.0,397.7 L1017.7,400.2 L1024.0,405.2 L1026.5,410.3 L1025.3,417.8 L1027.8,427.8 L1032.8,436.6 L1030.3,440.3 L1035.3,452.0 M970.1,452.0 L968.8,439.1 L963.8,427.8 L958.8,417.8 L956.3,407.7 L952.5,400.2 L948.8,387.7" fill="none" stroke="#fff" stroke-width="1.3" stroke-linejoin="round"/>
<path d="M992.7,357.6 L1000.2,355.1 L1007.7,358.8 L1015.2,362.6 L1025.3,365.1 L1032.8,365.1 L1037.8,370.1 L1044.1,377.6 L1050.3,380.2 L1056.6,377.6 L1060.4,373.9 L1064.1,371.4 L1069.2,372.6 L1070.4,377.6 L1066.6,380.2 L1062.9,382.7 L1060.4,385.2 L1055.4,387.7 L1051.6,395.2 L1047.8,397.7 L1042.8,396.5 L1037.8,395.2 L1032.8,392.7 L1027.8,387.7 L1020.3,382.7 L1015.2,377.6 L1010.2,373.9 L1003.9,372.6 L998.9,375.1 L995.2,376.4 L992.7,357.6" fill="none" stroke="#fff" stroke-width="1.3" stroke-linejoin="round"/>
<path d="M982.6,373.9 L987.6,375.1 L995.2,376.4 L998.9,375.1 L1003.9,372.6 L1010.2,373.9 L1015.2,377.6 L1020.3,382.7 L1027.8,387.7 L1032.8,392.7 L1037.8,395.2 L1042.8,396.5 L1040.3,400.2 L1035.3,402.7 L1027.8,407.7 L1024.0,405.2 L1017.7,400.2 L1009.0,397.7 L1000.2,395.2 L993.9,397.7 L990.2,400.2 L982.6,373.9" fill="none" stroke="#fff" stroke-width="1.3" stroke-linejoin="round"/>
<path d="M1057.9,372.6 L1064.1,368.9 L1072.9,367.6 L1084.2,368.9 L1095.5,370.1 L1096.7,373.9 L1090.5,376.4 L1084.2,380.2 L1077.9,382.7 L1071.7,383.9 L1065.4,382.7 L1062.9,380.2 L1069.2,377.6 L1069.2,372.6 L1057.9,372.6" fill="none" stroke="#fff" stroke-width="1.3" stroke-linejoin="round"/>
<path d="M1050.3,387.7 L1055.4,387.7 L1060.4,385.2 L1062.9,382.7 L1071.7,383.9 L1077.9,382.7 L1079.2,388.9 L1077.9,395.2 L1071.7,396.5 L1065.4,395.2 L1060.4,397.7 L1052.9,399.0 L1047.8,397.7 L1051.6,395.2 L1050.3,387.7" fill="none" stroke="#fff" stroke-width="1.3" stroke-linejoin="round"/>
<path d="M1025.3,410.3 L1027.8,407.7 L1035.3,402.7 L1040.3,400.2 L1047.8,397.7 L1052.9,399.0 L1060.4,397.7 L1065.4,395.2 L1069.2,397.7 L1071.7,405.2 L1067.9,412.8 L1065.4,420.3 L1060.4,425.3 L1052.9,430.3 L1047.8,436.6 L1040.3,439.1 L1032.8,436.6 L1027.8,427.8 L1025.3,417.8 L1025.3,410.3" fill="none" stroke="#fff" stroke-width="1.3" stroke-linejoin="round"/>
<path d="M1032.8,440.3 L1040.3,439.1 L1047.8,436.6 L1052.9,430.3 L1060.4,425.3 L1065.4,420.3 L1067.9,412.8 L1071.7,405.2 L1075.4,400.2 L1080.4,402.7 L1085.5,407.7 L1086.7,412.8 L1084.2,417.8 L1084.2,425.3 L1081.7,432.8 L1077.9,440.3 L1075.4,452.0 M1035.3,452.0 L1032.8,440.3" fill="none" stroke="#fff" stroke-width="1.3" stroke-linejoin="round"/>
<path d="M1069.2,397.7 L1077.9,395.2 L1084.2,397.7 L1090.5,400.2 L1098.0,405.2 L1100.5,410.3 L1095.5,411.5 L1090.5,412.8 L1086.7,412.8 L1085.5,407.7 L1080.4,402.7 L1075.4,400.2 L1069.2,397.7" fill="none" stroke="#fff" stroke-width="1.3" stroke-linejoin="round"/>
<path d="M1080.4,412.8 L1086.7,412.8 L1095.5,411.5 L1101.8,410.3 L1105.5,417.8 L1108.0,425.3 L1115.5,431.6 L1120.6,437.8 L1125.6,442.9 L1130.6,446.6 L1141.6,452.0 M1075.4,452.0 L1077.9,440.3 L1081.7,432.8 L1084.2,425.3 L1084.2,417.8 L1080.4,412.8" fill="none" stroke="#fff" stroke-width="1.3" stroke-linejoin="round"/>
<path d="M1118.1,436.6 L1123.1,435.3 L1130.6,439.1 L1141.6,442.9 M1141.6,452.0 L1128.1,446.6 L1121.8,441.6 L1118.1,436.6" fill="none" stroke="#fff" stroke-width="1.3" stroke-linejoin="round"/>
<path d="M1141.6,442.9 L1130.6,439.1 L1123.1,435.3 L1118.1,436.6 L1108.0,425.3 L1105.5,417.8 L1101.8,410.3 L1098.0,405.2 L1090.5,400.2 L1084.2,397.7 L1077.9,395.2 L1079.2,388.9 L1077.9,382.7 L1084.2,380.2 L1090.5,376.4 L1096.7,373.9 L1098.0,368.9 L1095.5,358.8 L1101.8,353.8 L1100.5,346.3 L1103.0,341.3 L1111.8,335.0 L1103.0,332.5 L1099.2,328.4" fill="none" stroke="#fff" stroke-width="1.3" stroke-linejoin="round"/>
<polyline points="1101.1,407.1 1105.5,405.9 1108.7,409.0 1108.0,414.0 1104.9,415.9 1101.8,412.8" fill="none" stroke="#fff" stroke-width="1.3" stroke-linejoin="round"/>
<polygon points="1260.7,320.7 1399.3,320.7 1399.3,439.3 1260.7,439.3" fill="#ffffff"/>
<polygon points="1257.8,317.8 1327.0,317.8 1330.6,327.2 1333.0,337.9 1332.4,349.9 1329.4,359.5 1325.2,366.7 1319.8,369.1 1314.4,368.5 1311.5,370.3 1307.9,373.8 1301.9,377.4 1298.3,377.4 1294.7,384.6 1291.1,387.0 1287.5,387.0 1283.9,382.2 1277.9,380.4 1273.2,383.4 1267.2,388.2 1265.4,391.8 1270.8,396.6 1277.9,399.0 1285.1,399.0 1289.3,397.8 1286.3,403.8 1281.5,408.5 1283.3,414.5 1288.7,419.3 1293.5,425.3 1297.1,431.3 1300.7,441.8 1257.8,441.8" fill="#ae99c9"/>
<polygon points="1311.5,370.3 1314.4,368.5 1313.8,372.7 1310.3,377.4 1307.9,383.4 1309.1,389.4 1311.5,393.0 1305.5,395.4 1299.5,396.6 1295.9,390.6 1293.5,385.8 1295.9,381.0 1299.5,377.4 1304.3,375.0 1307.9,372.7" fill="#e9b4c6"/>
<polygon points="1305.5,397.2 1311.5,393.0 1316.2,396.6 1319.8,401.4 1322.8,407.4 1322.2,412.1 1316.2,414.5 1312.7,413.3 1310.3,407.4 1307.9,402.6 1306.1,399.0" fill="#6a67ae"/>
<polygon points="1328.2,317.2 1334.2,324.8 1339.0,329.6 1343.8,333.2 1349.7,335.6 1346.2,336.8 1345.0,340.3 1348.5,345.1 1355.7,351.1 1350.9,351.1 1346.2,347.5 1342.6,341.5 1337.8,334.4 1333.0,328.4 1329.4,323.6" fill="#ae99c9"/>
<polygon points="1386.8,317.2 1402.8,317.2 1402.8,323.6 1394.0,326.0 1389.2,323.6" fill="#ae99c9"/>
<path d="M1311.5,370.3 L1314.4,368.5 L1313.8,372.7 L1310.3,377.4 L1307.9,383.4 L1309.1,389.4 L1311.5,393.0 L1305.5,395.4 L1299.5,396.6 L1295.9,390.6 L1293.5,385.8 L1295.9,381.0 L1299.5,377.4 L1304.3,375.0 L1307.9,372.7 L1311.5,370.3" fill="none" stroke="#fff" stroke-width="1.3" stroke-linejoin="round"/>
<path d="M1305.5,397.2 L1311.5,393.0 L1316.2,396.6 L1319.8,401.4 L1322.8,407.4 L1322.2,412.1 L1316.2,414.5 L1312.7,413.3 L1310.3,407.4 L1307.9,402.6 L1306.1,399.0 L1305.5,397.2" fill="none" stroke="#fff" stroke-width="1.3" stroke-linejoin="round"/>
<path d="M1328.2,317.2 L1334.2,324.8 L1339.0,329.6 L1343.8,333.2 L1349.7,335.6 L1346.2,336.8 L1345.0,340.3 L1348.5,345.1 L1355.7,351.1 L1350.9,351.1 L1346.2,347.5 L1342.6,341.5 L1337.8,334.4 L1333.0,328.4 L1329.4,323.6 L1328.2,317.2" fill="none" stroke="#fff" stroke-width="1.3" stroke-linejoin="round"/>
<polyline points="1264.8,318.2 1279.1,332.0 1287.5,334.4 1295.9,340.3 1299.5,342.7 1310.3,340.3 1313.2,341.5 1313.8,351.1 1315.0,355.9 1311.5,359.5 1309.1,358.3 1311.5,364.3 1313.2,369.1" fill="none" stroke="#fff" stroke-width="1.3" stroke-linejoin="round"/>
<polygon points="840.6,330.6 999.4,330.6 999.4,419.4 840.6,419.4" fill="#ffffff"/>
<polygon points="838.2,328.2 950.3,328.2 949.3,335.0 950.3,340.0 955.4,350.1 960.4,352.1 962.4,375.1 953.4,372.1 945.3,370.1 935.3,368.1 928.3,367.1 923.3,364.1 918.2,360.1 914.2,358.1 910.2,359.1 905.2,360.1 900.2,359.1 897.2,357.1 896.2,354.1 890.2,350.1 885.1,350.1 882.1,355.1 877.1,360.1 876.1,368.1 877.1,373.1 873.1,374.1 870.1,376.1 864.1,379.2 859.1,380.2 855.0,382.2 854.0,385.2 857.1,390.2 861.1,395.2 859.1,399.2 857.1,402.2 855.0,400.2 852.0,395.2 849.0,390.2 847.0,386.2 844.0,384.2 842.0,383.2 838.2,380.2" fill="#ae99c9"/>
<polygon points="837.7,340.0 845.0,340.5 849.5,342.5 848.0,347.1 845.0,351.1 848.0,355.1 851.0,360.1 853.0,366.1 852.5,370.1 849.0,371.1 845.0,370.1 842.0,367.1 837.7,363.1" fill="#6a67ae"/>
<polygon points="844.0,369.1 848.0,369.6 848.5,372.1 844.5,372.1" fill="#d0d1d1"/>
<polygon points="840.5,372.1 844.0,372.1 845.0,376.1 844.5,380.2 844.0,384.2 842.0,383.2 841.0,378.1" fill="#e9a0b0"/>
<polygon points="846.0,373.1 850.0,372.1 855.0,373.1 855.0,377.1 850.0,378.1 846.0,377.6" fill="#ae99c9"/>
<polygon points="845.0,380.2 850.0,378.1 856.0,377.6 863.1,377.1 869.1,376.6 871.1,378.1 864.1,379.2 859.1,380.2 855.0,382.2 854.0,385.2 857.1,390.2 861.1,395.2 859.1,399.2 857.1,402.2 855.0,400.2 852.0,395.2 849.0,390.2 847.0,386.2" fill="#ae99c9"/>
<polygon points="854.0,365.1 860.1,364.1 866.1,363.6 871.1,364.1 876.1,364.6 878.1,368.1 877.1,373.1 873.1,374.1 869.1,376.1 863.1,376.6 856.0,377.1 854.0,373.1 855.0,369.1" fill="#ae99c9"/>
<polygon points="850.0,342.0 858.1,341.0 868.1,340.0 872.1,342.0 878.1,350.1 880.1,355.1 878.1,363.1 870.1,364.1 860.1,364.1 854.0,365.1 853.0,360.1 850.0,356.1 848.0,352.1 849.0,346.0" fill="#ae99c9"/>
<polygon points="870.1,340.0 876.1,341.0 880.1,347.1 882.1,352.1 878.1,351.1 874.1,345.0" fill="#ae99c9"/>
<polygon points="876.1,368.1 877.1,360.1 882.1,355.1 885.1,350.1 890.2,350.1 896.2,354.1 897.2,357.1 900.2,359.1 905.2,360.1 910.2,359.1 914.2,358.1 918.2,360.1 923.3,364.1 928.3,367.1 933.3,369.1 934.3,373.1 930.3,375.1 925.3,376.1 920.2,377.1 914.2,376.1 908.2,374.1 902.2,374.1 896.2,375.1 890.2,378.1 884.1,378.1 880.1,377.1 877.1,373.1" fill="#ffffff"/>
<polygon points="904.2,349.1 910.2,347.6 917.2,346.0 916.2,350.1 914.2,354.1 912.2,356.1 910.2,357.1 906.2,355.1" fill="#ffffff"/>
<polygon points="896.2,353.1 900.2,352.1 904.2,353.1 905.2,356.1 910.2,357.1 912.2,356.1 910.2,359.1 905.2,360.1 900.2,359.1 897.2,356.1" fill="#ae99c9"/>
<polygon points="928.3,367.1 935.3,368.1 945.3,370.1 953.4,372.1 950.3,377.1 940.3,378.1 934.3,375.1 933.3,370.1" fill="#e9b4c6"/>
<polygon points="940.3,378.1 950.3,377.1 953.4,373.1 962.4,376.1 966.4,378.1 970.4,382.2 968.4,388.2 960.4,390.2 955.4,390.2 950.3,387.2 945.3,384.2" fill="#e9b4c6"/>
<polygon points="950.3,327.7 1002.3,327.7 1002.3,373.1 985.5,372.1 977.4,367.1 974.4,364.1 973.4,360.1 974.4,356.1 979.4,354.1 978.4,350.1 972.4,349.1 965.4,348.1 960.4,350.1 955.4,350.1 950.3,340.0 949.3,335.0" fill="#e9b4c6"/>
<polygon points="983.4,372.1 1002.3,373.1 1002.3,395.2 990.5,398.2 990.5,385.2 988.5,378.1" fill="#e9b4c6"/>
<polygon points="992.5,357.1 1002.3,355.1 1002.3,377.1 995.5,375.1" fill="#fde5d6"/>
<polygon points="955.4,358.1 960.4,350.1 965.4,348.1 972.4,349.1 978.4,350.1 979.4,354.1 974.4,356.1 973.4,360.1 974.4,364.1 977.4,367.1 983.4,372.1 988.5,378.1 990.5,385.2 990.5,392.2 988.5,398.2 980.4,401.2 973.4,400.2 969.4,394.2 968.4,388.2 970.4,382.2 966.4,378.1 962.4,375.1 960.4,370.1 958.4,365.1" fill="#ffffff"/>
<polygon points="871.1,375.1 875.1,378.1 880.1,377.1 884.1,378.1 890.2,378.1 896.2,375.1 902.2,374.1 908.2,374.1 914.2,376.1 920.2,377.1 925.3,376.1 930.3,375.1 934.3,373.1 936.3,376.1 940.3,378.1 945.3,384.2 950.3,387.2 948.3,392.2 949.3,396.2 945.3,398.2 940.3,399.2 934.3,400.2 928.3,400.2 922.3,401.2 917.2,402.2 914.2,404.2 910.2,404.2 905.2,403.2 900.2,404.2 894.2,403.2 888.1,404.2 883.1,402.2 878.1,400.2 875.1,394.2 872.1,390.2 873.1,386.2 871.1,382.2 874.1,380.2" fill="#ae99c9"/>
<polygon points="870.1,376.1 874.1,375.1 878.1,377.1 875.1,378.1 871.1,378.1" fill="#ae99c9"/>
<polygon points="945.3,384.2 950.3,387.2 955.4,390.2 960.4,390.2 968.4,388.2 969.4,394.2 973.4,400.2 980.4,401.2 988.5,399.2 1002.3,395.2 1002.3,422.6 952.3,422.6 950.3,412.3 949.3,406.2 948.3,400.2 949.3,396.2 948.3,392.2" fill="#e9b4c6"/>
<polygon points="917.2,402.2 922.3,401.2 928.3,400.2 934.3,400.2 940.3,399.2 945.3,398.2 940.3,405.2 939.3,410.2 935.3,415.3 930.3,422.6 918.2,422.6 916.2,415.3 915.2,408.2" fill="#e9b4c6"/>
<polygon points="940.3,399.2 945.3,398.2 949.3,396.2 948.3,400.2 949.3,406.2 950.3,412.3 952.3,422.6 930.3,422.6 935.3,415.3 939.3,410.2 940.3,405.2" fill="#e9b4c6"/>
<polygon points="899.2,411.8 902.2,410.2 906.2,409.2 908.2,410.2 905.2,412.8 901.2,413.3" fill="#ae99c9"/>
<polygon points="861.1,408.7 866.1,408.2 873.1,409.7 872.1,411.3 866.1,410.8 861.6,410.2" fill="#ae99c9"/>
<polygon points="913.7,416.3 915.4,415.8 916.2,422.6 914.0,422.6" fill="#6a67ae"/>
<path d="M837.7,340.0 L845.0,340.5 L849.5,342.5 L848.0,347.1 L845.0,351.1 L848.0,355.1 L851.0,360.1 L853.0,366.1 L852.5,370.1 L849.0,371.1 L845.0,370.1 L842.0,367.1 L837.7,363.1" fill="none" stroke="#fff" stroke-width="1.3" stroke-linejoin="round"/>
<path d="M844.0,369.1 L848.0,369.6 L848.5,372.1 L844.5,372.1 L844.0,369.1" fill="none" stroke="#fff" stroke-width="1.3" stroke-linejoin="round"/>
<path d="M840.5,372.1 L844.0,372.1 L845.0,376.1 L844.5,380.2 L844.0,384.2 L842.0,383.2 L841.0,378.1 L840.5,372.1" fill="none" stroke="#fff" stroke-width="1.3" stroke-linejoin="round"/>
<path d="M846.0,373.1 L850.0,372.1 L855.0,373.1 L855.0,377.1 L850.0,378.1 L846.0,377.6 L846.0,373.1" fill="none" stroke="#fff" stroke-width="1.3" stroke-linejoin="round"/>
<path d="M845.0,380.2 L850.0,378.1 L856.0,377.6 L863.1,377.1 L869.1,376.6 L871.1,378.1 L864.1,379.2 L859.1,380.2 L855.0,382.2 L854.0,385.2 L857.1,390.2 L861.1,395.2 L859.1,399.2 L857.1,402.2 L855.0,400.2 L852.0,395.2 L849.0,390.2 L847.0,386.2 L845.0,380.2" fill="none" stroke="#fff" stroke-width="1.3" stroke-linejoin="round"/>
<path d="M854.0,365.1 L860.1,364.1 L866.1,363.6 L871.1,364.1 L876.1,364.6 L878.1,368.1 L877.1,373.1 L873.1,374.1 L869.1,376.1 L863.1,376.6 L856.0,377.1 L854.0,373.1 L855.0,369.1 L854.0,365.1" fill="none" stroke="#fff" stroke-width="1.3" stroke-linejoin="round"/>
<path d="M850.0,342.0 L858.1,341.0 L868.1,340.0 L872.1,342.0 L878.1,350.1 L880.1,355.1 L878.1,363.1 L870.1,364.1 L860.1,364.1 L854.0,365.1 L853.0,360.1 L850.0,356.1 L848.0,352.1 L849.0,346.0 L850.0,342.0" fill="none" stroke="#fff" stroke-width="1.3" stroke-linejoin="round"/>
<path d="M870.1,340.0 L876.1,341.0 L880.1,347.1 L882.1,352.1 L878.1,351.1 L874.1,345.0 L870.1,340.0" fill="none" stroke="#fff" stroke-width="1.3" stroke-linejoin="round"/>
<path d="M928.3,367.1 L935.3,368.1 L945.3,370.1 L953.4,372.1 L950.3,377.1 L940.3,378.1 L934.3,375.1 L933.3,370.1 L928.3,367.1" fill="none" stroke="#fff" stroke-width="1.3" stroke-linejoin="round"/>
<path d="M940.3,378.1 L950.3,377.1 L953.4,373.1 L962.4,376.1 L966.4,378.1 L970.4,382.2 L968.4,388.2 L960.4,390.2 L955.4,390.2 L950.3,387.2 L945.3,384.2 L940.3,378.1" fill="none" stroke="#fff" stroke-width="1.3" stroke-linejoin="round"/>
<path d="M1002.3,373.1 L985.5,372.1 L977.4,367.1 L974.4,364.1 L973.4,360.1 L974.4,356.1 L979.4,354.1 L978.4,350.1 L972.4,349.1 L965.4,348.1 L960.4,350.1 L955.4,350.1 L950.3,340.0 L949.3,335.0 L950.3,327.7" fill="none" stroke="#fff" stroke-width="1.3" stroke-linejoin="round"/>
<path d="M983.4,372.1 L1002.3,373.1 M1002.3,395.2 L990.5,398.2 L990.5,385.2 L988.5,378.1 L983.4,372.1" fill="none" stroke="#fff" stroke-width="1.3" stroke-linejoin="round"/>
<path d="M992.5,357.1 L1002.3,355.1 M1002.3,377.1 L995.5,375.1 L992.5,357.1" fill="none" stroke="#fff" stroke-width="1.3" stroke-linejoin="round"/>
<path d="M871.1,375.1 L875.1,378.1 L880.1,377.1 L884.1,378.1 L890.2,378.1 L896.2,375.1 L902.2,374.1 L908.2,374.1 L914.2,376.1 L920.2,377.1 L925.3,376.1 L930.3,375.1 L934.3,373.1 L936.3,376.1 L940.3,378.1 L945.3,384.2 L950.3,387.2 L948.3,392.2 L949.3,396.2 L945.3,398.2 L940.3,399.2 L934.3,400.2 L928.3,400.2 L922.3,401.2 L917.2,402.2 L914.2,404.2 L910.2,404.2 L905.2,403.2 L900.2,404.2 L894.2,403.2 L888.1,404.2 L883.1,402.2 L878.1,400.2 L875.1,394.2 L872.1,390.2 L873.1,386.2 L871.1,382.2 L874.1,380.2 L871.1,375.1" fill="none" stroke="#fff" stroke-width="1.3" stroke-linejoin="round"/>
<path d="M870.1,376.1 L874.1,375.1 L878.1,377.1 L875.1,378.1 L871.1,378.1 L870.1,376.1" fill="none" stroke="#fff" stroke-width="1.3" stroke-linejoin="round"/>
<path d="M945.3,384.2 L950.3,387.2 L955.4,390.2 L960.4,390.2 L968.4,388.2 L969.4,394.2 L973.4,400.2 L980.4,401.2 L988.5,399.2 L1002.3,395.2 M952.3,422.6 L950.3,412.3 L949.3,406.2 L948.3,400.2 L949.3,396.2 L948.3,392.2 L945.3,384.2" fill="none" stroke="#fff" stroke-width="1.3" stroke-linejoin="round"/>
<path d="M917.2,402.2 L922.3,401.2 L928.3,400.2 L934.3,400.2 L940.3,399.2 L945.3,398.2 L940.3,405.2 L939.3,410.2 L935.3,415.3 L930.3,422.6 M918.2,422.6 L916.2,415.3 L915.2,408.2 L917.2,402.2" fill="none" stroke="#fff" stroke-width="1.3" stroke-linejoin="round"/>
<path d="M940.3,399.2 L945.3,398.2 L949.3,396.2 L948.3,400.2 L949.3,406.2 L950.3,412.3 L952.3,422.6 M930.3,422.6 L935.3,415.3 L939.3,410.2 L940.3,405.2 L940.3,399.2" fill="none" stroke="#fff" stroke-width="1.3" stroke-linejoin="round"/>
<path d="M899.2,411.8 L902.2,410.2 L906.2,409.2 L908.2,410.2 L905.2,412.8 L901.2,413.3 L899.2,411.8" fill="none" stroke="#fff" stroke-width="1.3" stroke-linejoin="round"/>
<path d="M861.1,408.7 L866.1,408.2 L873.1,409.7 L872.1,411.3 L866.1,410.8 L861.6,410.2 L861.1,408.7" fill="none" stroke="#fff" stroke-width="1.3" stroke-linejoin="round"/>
<path d="M913.7,416.3 L915.4,415.8 L916.2,422.6 M914.0,422.6 L913.7,416.3" fill="none" stroke="#fff" stroke-width="1.3" stroke-linejoin="round"/>
<polyline points="923.3,328.5 923.3,336.0 920.2,341.0 917.2,346.0" fill="none" stroke="#fff" stroke-width="1.3" stroke-linejoin="round"/>
<polyline points="882.1,352.1 885.1,350.1" fill="none" stroke="#fff" stroke-width="1.3" stroke-linejoin="round"/>
<polygon points="900.6,380.6 1059.4,380.6 1059.4,479.4 900.6,479.4" fill="#ffffff"/>
<polygon points="898.2,378.2 1061.0,378.2 1061.0,481.3 898.2,481.3" fill="#e9b4c6"/>
<polygon points="897.7,377.7 946.1,377.7 948.1,386.0 950.2,392.0 951.2,398.1 945.1,400.1 938.1,400.1 930.1,401.1 920.1,401.6 917.1,403.1 913.0,403.1 910.0,405.1 897.7,404.1" fill="#ae99c9"/>
<polygon points="969.2,377.7 982.3,377.7 986.3,384.0 988.3,390.0 991.3,396.0 990.3,400.1 985.3,401.1 978.2,400.1 974.2,397.1 972.2,393.0 970.2,388.0 968.2,383.0" fill="#ffffff"/>
<polygon points="1025.4,377.7 1062.3,377.7 1062.3,398.1 1045.5,396.0 1039.4,399.1 1038.4,394.0 1030.4,390.0 1027.4,384.0" fill="#fde5d6"/>
<polygon points="897.7,404.1 910.0,405.1 913.0,404.1 915.0,406.1 914.0,413.1 913.0,420.1 912.0,428.1 911.0,434.2 908.0,436.2 904.0,434.2 897.7,432.2" fill="#ffffff"/>
<polygon points="912.5,403.6 915.0,403.6 916.0,410.1 915.0,420.1 914.0,428.1 913.0,436.2 911.8,436.2 912.5,426.1 913.2,415.1" fill="#6a67ae"/>
<polygon points="921.1,430.2 930.1,428.1 940.1,432.2 950.2,438.2 960.2,442.2 968.2,443.2 973.2,444.2 976.2,448.2 980.2,453.2 983.3,458.2 986.3,460.2 988.3,462.3 990.3,470.3 992.3,482.6 933.1,482.6 928.1,470.3 923.1,460.2 919.1,450.2 914.0,444.2 919.1,440.2 923.1,436.2" fill="#fde5d6"/>
<polygon points="968.2,438.7 972.2,438.2 973.2,444.2 969.2,444.2" fill="#e9b4c6"/>
<polygon points="972.2,440.2 976.2,438.2 980.2,440.2 983.3,445.2 987.3,450.2 992.3,454.2 998.3,456.2 1004.3,457.2 1010.3,456.2 1013.4,459.2 1011.3,463.3 1009.3,463.3 1004.3,467.3 998.3,469.3 992.3,470.3 989.3,463.3 986.3,460.2 983.3,457.2 980.2,452.2 976.2,447.2 974.2,444.2" fill="#ffffff"/>
<polygon points="984.3,458.2 986.3,458.7 986.5,461.8 984.5,461.5" fill="#e9b4c6"/>
<polygon points="992.3,470.3 998.3,469.3 1004.3,467.3 1009.3,463.3 1011.3,466.3 1010.3,482.6 993.3,482.6" fill="#e9b4c6"/>
<polygon points="1013.4,459.2 1016.4,462.3 1025.4,464.3 1035.4,464.3 1045.5,464.3 1062.3,463.3 1062.3,482.6 1028.4,482.6 1025.4,476.3 1020.4,472.3 1015.4,468.3 1011.3,466.3 1011.3,463.3" fill="#ffffff"/>
<polygon points="909.0,448.2 913.0,445.2 916.0,450.2 920.1,458.2 925.1,466.3 929.1,474.3 932.1,482.6 924.1,482.6 920.1,470.3 915.0,460.2 911.0,452.2" fill="#ffffff"/>
<path d="M946.1,377.7 L948.1,386.0 L950.2,392.0 L951.2,398.1 L945.1,400.1 L938.1,400.1 L930.1,401.1 L920.1,401.6 L917.1,403.1 L913.0,403.1 L910.0,405.1 L897.7,404.1" fill="none" stroke="#fff" stroke-width="1.3" stroke-linejoin="round"/>
<path d="M1062.3,398.1 L1045.5,396.0 L1039.4,399.1 L1038.4,394.0 L1030.4,390.0 L1027.4,384.0 L1025.4,377.7" fill="none" stroke="#fff" stroke-width="1.3" stroke-linejoin="round"/>
<path d="M912.5,403.6 L915.0,403.6 L916.0,410.1 L915.0,420.1 L914.0,428.1 L913.0,436.2 L911.8,436.2 L912.5,426.1 L913.2,415.1 L912.5,403.6" fill="none" stroke="#fff" stroke-width="1.3" stroke-linejoin="round"/>
<path d="M921.1,430.2 L930.1,428.1 L940.1,432.2 L950.2,438.2 L960.2,442.2 L968.2,443.2 L973.2,444.2 L976.2,448.2 L980.2,453.2 L983.3,458.2 L986.3,460.2 L988.3,462.3 L990.3,470.3 L992.3,482.6 M933.1,482.6 L928.1,470.3 L923.1,460.2 L919.1,450.2 L914.0,444.2 L919.1,440.2 L923.1,436.2 L921.1,430.2" fill="none" stroke="#fff" stroke-width="1.3" stroke-linejoin="round"/>
<path d="M968.2,438.7 L972.2,438.2 L973.2,444.2 L969.2,444.2 L968.2,438.7" fill="none" stroke="#fff" stroke-width="1.3" stroke-linejoin="round"/>
<path d="M984.3,458.2 L986.3,458.7 L986.5,461.8 L984.5,461.5 L984.3,458.2" fill="none" stroke="#fff" stroke-width="1.3" stroke-linejoin="round"/>
<path d="M992.3,470.3 L998.3,469.3 L1004.3,467.3 L1009.3,463.3 L1011.3,466.3 L1010.3,482.6 M993.3,482.6 L992.3,470.3" fill="none" stroke="#fff" stroke-width="1.3" stroke-linejoin="round"/>
<polyline points="940.1,401.1 938.1,410.1 930.1,420.1 928.1,425.1" fill="none" stroke="#fff" stroke-width="1.3" stroke-linejoin="round"/>
<polyline points="951.2,398.1 958.2,406.1 959.2,415.1 964.2,422.1 970.2,429.2 972.2,436.2 972.2,440.2" fill="none" stroke="#fff" stroke-width="1.3" stroke-linejoin="round"/>
<polyline points="928.1,425.1 940.1,432.2 950.2,438.2 960.2,442.2 968.2,443.2" fill="none" stroke="#fff" stroke-width="1.3" stroke-linejoin="round"/>
<polyline points="916.0,425.1 928.1,425.1" fill="none" stroke="#fff" stroke-width="1.3" stroke-linejoin="round"/>
<polyline points="1024.4,405.1 1025.4,420.1 1029.4,430.2 1030.4,440.2" fill="none" stroke="#fff" stroke-width="1.3" stroke-linejoin="round"/>
<polyline points="1030.4,440.2 1036.4,445.2 1040.4,452.2 1037.4,460.2 1036.4,464.3" fill="none" stroke="#fff" stroke-width="1.3" stroke-linejoin="round"/>
<polyline points="1030.4,440.2 1040.4,441.2 1050.5,440.2 1054.5,430.2 1061.5,428.1" fill="none" stroke="#fff" stroke-width="1.3" stroke-linejoin="round"/>
<polyline points="990.3,399.1 998.3,396.0 1005.3,395.0 1015.4,398.1 1024.4,405.1" fill="none" stroke="#fff" stroke-width="1.3" stroke-linejoin="round"/>
<polyline points="1024.4,405.1 1030.4,409.1 1038.4,405.1 1039.4,399.1 1045.5,396.0" fill="none" stroke="#fff" stroke-width="1.3" stroke-linejoin="round"/>
<polyline points="1010.3,466.3 1010.3,481.8" fill="none" stroke="#fff" stroke-width="1.3" stroke-linejoin="round"/>
<polyline points="913.0,436.2 912.0,440.2 914.0,444.2" fill="none" stroke="#fff" stroke-width="1.3" stroke-linejoin="round"/>
<polyline points="946.1,378.5 948.1,386.0 950.2,392.0 951.2,398.1" fill="none" stroke="#fff" stroke-width="1.3" stroke-linejoin="round"/>
<polyline points="950.2,386.0 956.2,388.0 962.2,390.0 966.2,389.0 970.2,388.0" fill="none" stroke="#fff" stroke-width="1.3" stroke-linejoin="round"/>
<polygon points="505.4,570.3 507.8,569.5 511.8,572.0 516.6,576.0 519.0,578.3 519.8,581.5 515.8,584.7 511.8,588.7 508.6,588.0 505.4,586.3 504.6,580.0 504.6,574.3" fill="#9d94cc"/>
<polygon points="371.7,482.3 375.3,478.7 380.6,476.9 385.1,476.0 391.4,476.9 395.9,478.7 400.4,479.6 404.9,484.1 410.2,486.8 413.8,488.6 418.3,491.3 417.4,492.6 412.9,493.1 407.6,493.1 404.0,493.1 405.8,491.3 402.2,487.7 398.6,485.0 394.1,482.3 388.7,480.5 384.2,479.6 379.7,480.0 375.3,481.4" fill="#ae99c9"/>
<polygon points="399.5,502.0 403.0,501.0 406.7,502.5 407.6,503.8 404.0,504.3 400.4,503.4" fill="#ae99c9"/>
<polygon points="449.7,501.6 457.0,501.6 457.0,503.6 449.7,503.6" fill="#6a67ae"/>
<polygon points="459.0,500.0 464.0,499.5 464.0,502.0 459.0,502.5" fill="#d0d1d1"/>
<polygon points="481.5,528.5 484.5,528.5 484.5,531.5 481.5,531.5" fill="#6a67ae"/>
<polygon points="403.0,455.5 409.0,455.0 410.0,458.0 404.0,458.5" fill="#e9b4c6"/>
<polygon points="405.0,466.0 407.0,466.0 407.5,472.5 405.5,472.0" fill="#e9b4c6"/>
<polygon points="385.0,495.7 387.5,495.7 387.5,498.0 385.0,498.0" fill="#d0d1d1"/>
<polygon points="430.0,481.3 432.5,481.3 432.5,483.5 430.0,483.5" fill="#d0d1d1"/>
<polygon points="433.5,532.5 436.0,532.5 436.0,535.0 433.5,535.0" fill="#d0d1d1"/>
<polygon points="439.5,533.5 442.5,533.5 442.5,535.5 439.5,535.5" fill="#d0d1d1"/>
<polygon points="471.0,425.0 474.0,425.0 474.0,428.0 471.0,428.0" fill="#d0d1d1"/>
<polygon points="634.0,391.0 637.0,391.0 637.0,394.0 634.0,394.0" fill="#6a67ae"/>
<polygon points="653.0,518.0 656.0,518.0 656.0,521.0 653.0,521.0" fill="#e9b4c6"/>
<polygon points="31.0,481.0 33.0,481.0 33.0,483.0 31.0,483.0" fill="#6a67ae"/>
<polygon points="35.0,484.0 37.0,484.0 37.0,486.0 35.0,486.0" fill="#6a67ae"/>
<polygon points="39.0,487.0 41.5,487.0 41.5,489.0 39.0,489.0" fill="#6a67ae"/>
<polygon points="43.0,491.0 47.0,492.0 48.0,496.0 45.0,498.0 43.0,495.0" fill="#6a67ae"/>
<polygon points="468.5,499.2 470.5,499.2 470.5,501.2 468.5,501.2" fill="#d0d1d1"/>
<polygon points="469.4,502.8 471.4,502.8 471.4,504.8 469.4,504.8" fill="#d0d1d1"/>
<polygon points="470.3,507.3 472.3,507.3 472.3,509.3 470.3,509.3" fill="#d0d1d1"/>
<polygon points="473.4,507.3 475.4,507.3 475.4,509.3 473.4,509.3" fill="#d0d1d1"/>
<polygon points="473.0,511.8 475.0,511.8 475.0,513.8 473.0,513.8" fill="#d0d1d1"/>
<polygon points="474.7,516.3 476.7,516.3 476.7,518.3 474.7,518.3" fill="#d0d1d1"/>
<polygon points="475.6,520.8 477.6,520.8 477.6,522.8 475.6,522.8" fill="#d0d1d1"/>
<polygon points="475.6,524.4 477.6,524.4 477.6,526.4 475.6,526.4" fill="#d0d1d1"/>
<polygon points="474.3,528.4 476.3,528.4 476.3,530.4 474.3,530.4" fill="#d0d1d1"/>
<polygon points="472.0,533.3 474.0,533.3 474.0,535.3 472.0,535.3" fill="#d0d1d1"/>
<polygon points="878.6,249.9 885.6,248.9 892.6,250.9 900.0,252.9 900.0,257.9 895.6,256.9 893.6,258.9 894.6,261.9 891.6,260.9 888.6,256.9 884.6,254.9 880.6,252.9" fill="#ffffff"/>
<polygon points="1425.8,518.3 1427.8,518.3 1427.8,520.3 1425.8,520.3" fill="#d0d1d1"/>
<polygon points="1423.8,527.5 1425.8,527.5 1425.8,529.5 1423.8,529.5" fill="#d0d1d1"/>
<polygon points="1491.6,563.0 1493.6,563.0 1493.6,565.0 1491.6,565.0" fill="#d0d1d1"/>
<polygon points="1539.4,560.2 1541.4,560.2 1541.4,562.2 1539.4,562.2" fill="#d0d1d1"/>
<polygon points="1533.4,602.0 1535.4,602.0 1535.4,604.0 1533.4,604.0" fill="#d0d1d1"/>
<polygon points="1562.0,592.0 1564.0,592.0 1564.0,594.0 1562.0,594.0" fill="#d0d1d1"/>
<polygon points="1380.0,559.0 1382.0,559.0 1382.0,561.0 1380.0,561.0" fill="#d0d1d1"/>
<polygon points="1092.8,638.7 1094.8,638.7 1094.8,640.7 1092.8,640.7" fill="#d0d1d1"/>
<polygon points="1275.9,719.6 1284.9,713.6 1299.8,707.7 1314.8,701.7 1320.7,692.7 1329.7,686.7 1338.7,677.8 1347.7,676.3 1356.6,671.8 1368.6,662.8 1380.6,665.8 1389.5,665.8 1386.5,674.8 1395.5,689.7 1403.0,695.7 1407.5,686.7 1412.0,671.8 1416.5,659.8 1420.9,668.8 1425.4,683.7 1428.4,695.7 1437.4,710.7 1443.4,728.6 1446.4,740.6 1444.9,755.5 1440.4,767.5 1428.4,782.4 1413.5,797.4 1401.5,806.4 1386.5,809.4 1374.6,806.4 1365.6,797.4 1359.6,785.4 1353.6,779.4 1338.7,773.5 1323.7,775.0 1308.8,777.9 1293.8,782.4 1278.9,786.9 1266.9,786.9 1269.9,773.5 1269.9,755.5 1271.4,740.6 1272.9,728.6" fill="#433f8f"/>
<polygon points="1376.1,822.8 1391.0,821.3 1388.0,827.3 1380.6,834.8 1375.2,834.8 1374.6,827.3" fill="#433f8f"/>
<polygon points="1516.6,786.9 1519.6,795.9 1522.6,803.4 1531.6,805.8 1527.1,810.8 1518.1,816.8 1510.7,822.8 1504.7,823.7 1503.2,819.8 1509.2,813.8 1512.2,806.4 1514.5,797.4" fill="#433f8f"/>
<polygon points="1500.8,819.8 1499.0,827.3 1490.6,832.7 1479.3,839.3 1467.9,845.8 1457.7,852.7 1451.7,848.8 1461.3,840.8 1473.3,833.9 1485.8,826.4 1494.2,821.9" fill="#433f8f"/>
<polygon points="508.2,343.9 514.5,339.8 513.1,343.4 520.8,346.1 526.2,347.9 529.8,347.4 535.1,349.2 540.5,349.2 540.5,358.2 506.4,358.2 507.3,352.8 507.8,347.4" fill="#ffffff"/>
<polygon points="1352.5,356.6 1358.1,359.8 1364.5,363.0 1370.1,363.8 1372.4,367.0 1367.7,367.8 1364.5,370.2 1361.3,371.8 1358.1,375.0 1354.9,371.8 1351.7,368.6 1352.5,363.8" fill="#ae99c9"/>
<polyline points="1115.8,335.9 1135.7,327.9 1155.6,321.9 1179.6,329.9 1211.5,331.9 1235.4,331.9 1243.0,337.0 1255.3,347.8" fill="none" stroke="#fff" stroke-width="1.3" stroke-linejoin="round"/>
<polyline points="1115.8,335.9 1135.7,351.8 1159.6,367.8 1199.5,373.8 1227.4,367.8 1255.3,347.8" fill="none" stroke="#fff" stroke-width="1.3" stroke-linejoin="round"/>
<polyline points="1235.4,331.9 1243.3,316.0 1267.3,314.0 1295.2,329.9 1315.0,343.9 1314.0,358.0 1316.0,365.0 1330.0,372.0" fill="none" stroke="#fff" stroke-width="1.3" stroke-linejoin="round"/>
<polyline points="1360.5,380.6 1364.8,387.0 1366.9,395.7 1368.5,403.7 1366.9,410.1 1361.0,413.6 1353.3,415.2 1345.3,415.7 1338.6,419.4 1336.2,425.3 1337.7,429.6" fill="none" stroke="#ae99c9" stroke-width="8.5" stroke-linejoin="round" stroke-linecap="round"/>
</svg>

<svg id="txt" style="position:absolute;left:0;top:0" width="1595" height="1003" viewBox="0 0 1595 1003">
<g fill="#231f20" font-family="Liberation Serif, Noto Naskh Arabic, DejaVu Sans, serif" direction="rtl">
<text x="1557" y="69" text-anchor="start" font-weight="bold" font-size="50" textLength="825" lengthAdjust="spacingAndGlyphs">18.1 <tspan font-size="55">مليون حالة سرطان جديدة عام</tspan> 2018</text>
<text x="1558" y="135" text-anchor="start" font-size="36" textLength="902" lengthAdjust="spacingAndGlyphs">عدد الحالات المقدرة لكل 100&#160;000 شخص، معدّل معياري بحسب السنّ</text>
<text x="897" y="822" text-anchor="middle" font-size="34" textLength="784" lengthAdjust="spacingAndGlyphs">يتم الحصول على المعدل المعياري عن طريق تعديل المعدل الحقيقي</text>
<text x="1297" y="816" text-anchor="middle" font-size="22" direction="ltr">*</text>
<text x="906" y="861" text-anchor="middle" font-size="34" textLength="685" lengthAdjust="spacingAndGlyphs">بما يتوافق مع حالة افتراضية يكون فيها لجميع السكان نفس</text>
<text x="905" y="900" text-anchor="middle" font-size="34" textLength="335" lengthAdjust="spacingAndGlyphs">الهرم العمري، ما يتيح المقارنة</text>
<text x="1558" y="975" text-anchor="start" font-size="24" textLength="524" lengthAdjust="spacingAndGlyphs">المصدر: منظمة الصحة العالمية، الوكالة الدولية لبحوث السرطان</text>
<text x="248" y="902" text-anchor="start" font-size="35" textLength="160" lengthAdjust="spacingAndGlyphs">غياب البيانات</text>
</g>
<g fill="#231f20" font-family="Liberation Serif, serif" font-weight="bold" font-size="33">
<text x="87" y="612" textLength="55" lengthAdjust="spacingAndGlyphs">400</text>
<text x="87" y="677" textLength="55" lengthAdjust="spacingAndGlyphs">300</text>
<text x="87" y="743" textLength="55" lengthAdjust="spacingAndGlyphs">200</text>
<text x="87" y="806" textLength="55" lengthAdjust="spacingAndGlyphs">100</text>
</g>
</svg>
<div class="lg" style="top:542px;height:63px;background:#433f8f"></div>
<div class="lg" style="top:605px;height:64px;background:#6a67ae"></div>
<div class="lg" style="top:669px;height:63px;background:#ae99c9"></div>
<div class="lg" style="top:732px;height:64px;background:#e9b4c6"></div>
<div class="lg" style="top:796px;height:63px;background:#fde5d6"></div>
<div class="lg" style="top:872px;height:31px;background:#d0d1d1"></div>
<div class="tk" style="top:605px"></div>
<div class="tk" style="top:669px"></div>
<div class="tk" style="top:732px"></div>
<div class="tk" style="top:796px"></div>



<svg style="position:absolute;left:0;top:940px" width="150" height="50" viewBox="0 940 150 50">
<circle cx="38" cy="966.5" r="10.3" fill="none" stroke="#231f20" stroke-width="1.1"/>
<text x="37.6" y="972.6" text-anchor="middle" font-family="Liberation Serif, DejaVu Serif, serif" font-size="17.5" fill="#231f20">C</text>
<polygon points="56.5,964 75,964 73.5,968.8 55,968.8" fill="#1f88d6"/>
<text x="61" y="976" font-family="Liberation Sans, DejaVu Sans, sans-serif" font-size="33" font-weight="bold" font-style="italic" fill="#1f88d6" textLength="73" lengthAdjust="spacingAndGlyphs">AFP</text>
</svg>
</body>
</html>
